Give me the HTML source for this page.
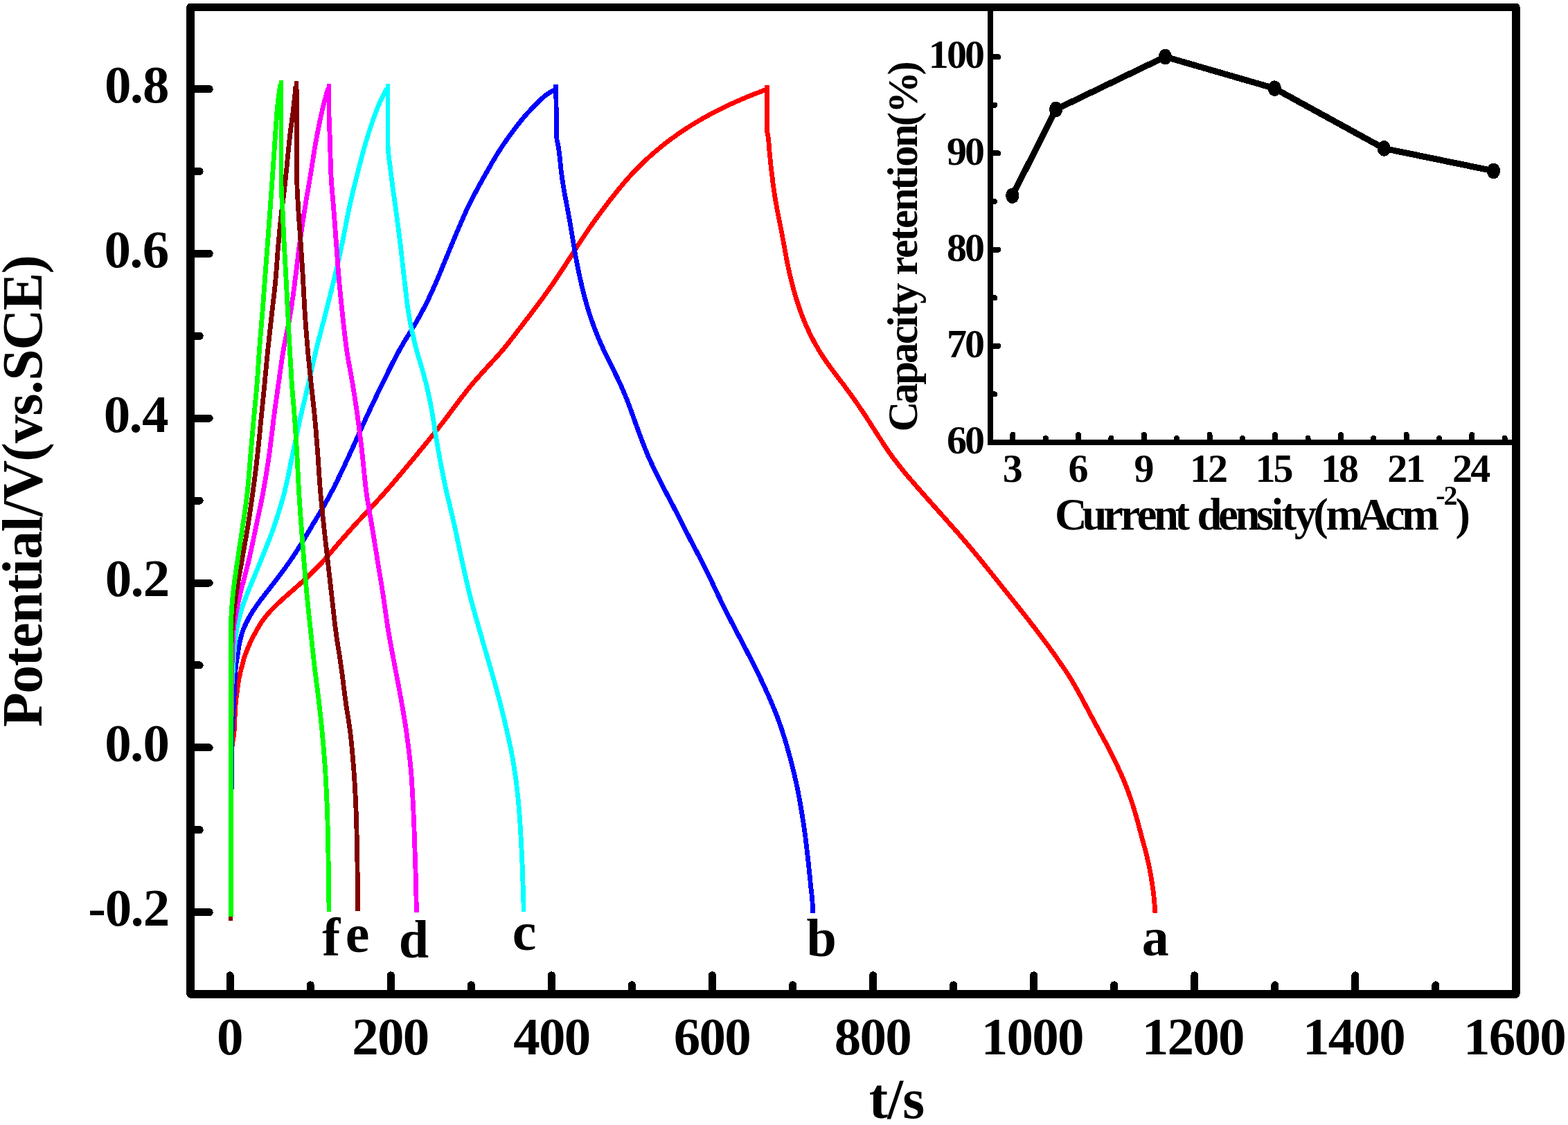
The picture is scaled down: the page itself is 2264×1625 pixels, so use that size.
<!DOCTYPE html><html><head><meta charset="utf-8"><title>Galvanostatic charge-discharge curves</title>
<style>html,body{margin:0;padding:0;background:#fff}svg{display:block}text{font-family:'Liberation Serif','DejaVu Serif',serif;font-weight:bold;fill:#000}</style></head><body>
<svg width="2264" height="1625" viewBox="0 0 2264 1625" shape-rendering="crispEdges">
<rect width="2264" height="1625" fill="#fff"/>
<g fill="none" stroke-width="6.80" stroke-linejoin="round" stroke-linecap="butt">
<path d="M333.0,1322.0L333.0,1319.0L333.0,1316.0L333.0,1313.0L333.0,1310.0L333.0,1307.0L333.0,1304.0L333.0,1301.0L333.0,1298.0L333.0,1295.0L333.0,1292.0L333.0,1289.0L333.0,1286.0L333.0,1283.0L333.0,1280.0L333.0,1277.0L333.0,1274.0L333.1,1271.0L333.1,1268.0L333.1,1265.0L333.1,1262.0L333.1,1259.0L333.1,1256.0L333.1,1253.0L333.1,1250.0L333.1,1247.0L333.1,1244.0L333.1,1241.0L333.1,1238.0L333.1,1235.0L333.1,1232.0L333.2,1229.0L333.2,1226.0L333.2,1223.0L333.2,1220.0L333.2,1217.0L333.2,1214.0L333.2,1211.0L333.2,1208.0L333.2,1205.0L333.3,1202.0L333.3,1199.0L333.3,1196.0L333.3,1193.0L333.3,1190.0L333.3,1187.0L333.3,1184.0L333.3,1181.0L333.4,1178.0L333.4,1175.0L333.4,1172.0L333.4,1169.0L333.4,1166.0L333.4,1163.0L333.4,1160.0L333.5,1157.0L333.5,1154.0L333.5,1151.0L333.5,1148.0L333.5,1145.0L333.5,1142.0L333.6,1139.0L333.6,1136.0L333.6,1133.0L333.6,1130.0L333.7,1127.0L333.7,1124.0L333.7,1121.0L333.7,1118.0L333.8,1115.0L333.8,1112.0L333.9,1109.0L333.9,1106.0L334.0,1103.0L334.0,1100.0L334.1,1097.0L334.1,1094.0L334.2,1091.0L334.3,1088.0L334.4,1085.0L334.6,1082.0L334.9,1079.0L335.3,1076.0L335.8,1073.0L336.3,1070.0L336.8,1067.0L337.2,1064.0L337.6,1061.0L337.9,1058.0L338.2,1055.0L338.3,1052.0L338.5,1049.0L338.6,1046.0L338.7,1043.0L338.9,1040.0L339.0,1037.0L339.2,1034.0L339.3,1031.0L339.5,1028.0L339.7,1025.0L339.8,1022.0L340.0,1019.0L340.3,1016.0L340.5,1013.0L340.8,1010.0L341.2,1007.0L341.7,1004.0L342.1,1001.0L342.5,998.0L342.8,995.0L343.2,992.0L343.5,989.0L344.0,986.0L344.5,983.0L345.1,980.0L345.7,977.0L346.4,974.0L347.1,971.0L347.9,968.0L348.6,965.0L349.4,962.0L350.2,959.0L350.9,956.0L351.8,953.0L352.6,950.0L353.6,947.0L354.7,944.0L355.9,941.0L357.1,938.0L358.3,935.0L359.6,932.0L360.9,929.2L362.1,926.5L363.5,923.8L364.8,921.0L366.3,918.2L367.8,915.5L369.3,912.8L370.8,910.0L372.4,907.2L374.0,904.5L375.7,901.8L377.4,899.0L379.1,896.5L380.9,894.0L382.9,891.5L384.9,889.0L387.1,886.5L389.1,884.2L391.1,882.0L393.2,879.8L395.5,877.5L397.7,875.2L400.0,873.0L402.4,870.8L404.8,868.5L407.3,866.2L409.6,864.2L411.8,862.2L414.1,860.2L416.6,858.0L418.8,856.0L421.1,854.0L423.4,852.0L425.7,850.0L427.9,848.0L430.2,846.0L432.5,844.0L434.7,842.0L437.2,839.8L439.7,837.5L442.1,835.2L444.4,833.0L446.8,830.8L449.1,828.5L451.4,826.2L453.6,824.0L455.9,821.8L458.1,819.5L460.2,817.2L462.4,815.0L464.5,812.8L466.6,810.5L468.7,808.2L470.7,806.0L472.7,803.8L474.9,801.2L477.0,798.8L479.1,796.2L481.2,793.8L483.3,791.2L485.4,788.8L487.6,786.2L489.7,783.8L491.9,781.2L494.1,778.8L496.3,776.2L498.5,773.8L500.7,771.2L502.7,769.0L504.7,766.8L506.7,764.5L508.7,762.2L510.7,760.0L512.8,757.8L514.8,755.5L516.9,753.2L519.0,751.0L521.1,748.8L523.2,746.5L525.3,744.2L527.4,742.0L529.6,739.8L531.7,737.5L533.8,735.2L535.8,733.0L537.9,730.8L540.0,728.5L542.1,726.2L544.2,724.0L546.2,721.8L548.3,719.5L550.4,717.2L552.4,715.0L554.4,712.8L556.4,710.5L558.4,708.2L560.6,705.8L562.8,703.2L564.9,700.8L567.1,698.2L569.2,695.8L571.3,693.2L573.4,690.8L575.5,688.2L577.6,685.8L579.7,683.2L581.8,680.8L583.9,678.2L586.0,675.8L588.1,673.2L590.2,670.8L592.2,668.2L594.3,665.8L596.4,663.2L598.5,660.8L600.5,658.2L602.6,655.8L604.6,653.2L606.7,650.8L608.7,648.2L610.8,645.8L612.8,643.2L614.9,640.8L616.9,638.2L618.9,635.8L620.9,633.2L623.0,630.8L625.0,628.2L627.0,625.8L629.0,623.2L631.0,620.8L633.0,618.2L635.0,615.8L636.9,613.2L638.9,610.8L640.8,608.2L642.8,605.8L644.7,603.2L646.6,600.8L648.4,598.2L650.3,595.8L652.1,593.2L653.9,590.8L655.8,588.2L657.7,585.8L659.5,583.2L661.4,580.8L663.3,578.2L665.2,575.8L667.1,573.2L669.1,570.8L671.0,568.2L672.9,565.8L674.9,563.2L676.9,560.8L678.9,558.2L681.0,555.8L683.1,553.2L685.2,550.8L687.4,548.2L689.4,546.0L691.4,543.8L693.4,541.5L695.5,539.2L697.5,537.0L699.5,534.8L701.6,532.5L703.6,530.2L705.6,528.0L707.7,525.8L709.7,523.5L711.8,521.2L713.9,519.0L716.0,516.8L718.0,514.5L720.1,512.2L722.1,510.0L724.2,507.5L726.4,505.0L728.4,502.5L730.5,500.0L732.5,497.5L734.4,495.0L736.4,492.5L738.3,490.0L740.3,487.5L742.2,485.0L744.1,482.5L746.0,480.0L748.0,477.5L749.9,475.0L751.8,472.5L753.8,470.0L755.7,467.5L757.6,465.0L759.5,462.5L761.4,460.0L763.3,457.5L765.2,455.0L767.1,452.5L769.0,450.0L770.9,447.5L772.8,445.0L774.7,442.5L776.5,440.0L778.4,437.5L780.2,435.0L782.1,432.5L783.9,430.0L785.7,427.5L787.5,425.0L789.3,422.5L791.1,420.0L792.9,417.5L794.6,415.0L796.4,412.5L798.1,410.0L799.8,407.5L801.5,405.0L803.2,402.5L804.9,400.0L806.6,397.5L808.4,394.8L810.2,392.0L812.0,389.2L813.8,386.5L815.6,383.8L817.4,381.0L819.1,378.2L820.9,375.5L822.7,372.8L824.5,370.0L826.2,367.2L828.0,364.5L829.8,361.8L831.5,359.0L833.3,356.2L835.1,353.5L836.9,350.8L838.7,348.0L840.5,345.2L842.3,342.5L844.1,339.8L845.8,337.2L847.5,334.8L849.2,332.2L850.9,329.8L852.6,327.2L854.4,324.8L856.1,322.2L857.9,319.8L859.7,317.2L861.6,314.8L863.4,312.2L865.2,309.8L867.1,307.2L868.9,304.8L870.8,302.2L872.7,299.8L874.5,297.2L876.4,294.8L878.3,292.2L880.3,289.8L882.2,287.2L884.2,284.8L886.2,282.2L888.2,279.8L890.2,277.2L892.2,274.8L894.2,272.2L896.3,269.8L898.4,267.2L900.5,264.8L902.6,262.2L904.8,259.8L907.0,257.2L909.0,255.0L911.0,252.8L913.1,250.5L915.3,248.2L917.4,246.0L919.6,243.8L921.8,241.5L924.1,239.2L926.4,237.0L928.7,234.8L931.0,232.5L933.4,230.2L935.9,228.0L938.3,225.8L940.6,223.8L942.9,221.8L945.2,219.8L947.5,217.8L949.9,215.8L952.4,213.8L954.8,211.8L957.3,209.8L959.8,207.8L962.4,205.8L965.0,203.8L967.7,201.8L970.4,199.8L973.2,197.8L975.6,196.0L978.1,194.2L980.6,192.5L983.2,190.8L985.7,189.0L988.4,187.2L991.0,185.5L993.8,183.8L996.5,182.0L999.3,180.2L1002.2,178.5L1005.1,176.8L1008.0,175.0L1011.0,173.2L1014.0,171.5L1016.7,170.0L1019.4,168.5L1022.1,167.0L1024.8,165.5L1027.6,164.0L1030.5,162.5L1033.4,161.0L1036.3,159.5L1039.3,158.0L1042.3,156.5L1045.4,155.0L1048.5,153.5L1051.7,152.0L1054.9,150.5L1058.2,149.0L1061.0,147.8L1063.8,146.5L1066.6,145.2L1069.5,144.0L1072.4,142.8L1075.3,141.5L1078.3,140.2L1081.3,139.0L1084.4,137.8L1087.5,136.5L1090.7,135.2L1093.9,134.0L1097.1,132.8L1100.5,131.5L1103.8,130.2L1104.5,130.0M1107.1,123.0L1107.1,126.0L1107.1,129.0L1107.1,132.0L1107.1,135.0L1107.1,138.0L1107.1,141.0L1107.1,144.0L1107.1,147.0L1107.1,150.0L1107.1,153.0L1107.1,156.0L1107.1,159.0L1107.1,162.0L1107.1,165.0L1107.1,168.0L1107.1,171.0L1107.1,174.0L1107.1,177.0L1107.1,180.0L1107.1,183.0L1107.1,186.0L1107.4,189.0L1107.9,192.0L1108.6,195.0L1109.1,198.0L1109.5,201.0L1109.8,204.0L1110.1,207.0L1110.3,210.0L1110.6,213.0L1110.8,216.0L1111.0,219.0L1111.3,222.0L1111.6,225.0L1111.9,228.0L1112.2,231.0L1112.5,234.0L1112.8,237.0L1113.1,240.0L1113.5,243.0L1113.8,246.0L1114.2,249.0L1114.5,252.0L1114.9,255.0L1115.3,258.0L1115.6,261.0L1116.0,264.0L1116.4,267.0L1116.8,270.0L1117.2,273.0L1117.7,276.0L1118.1,279.0L1118.6,282.0L1119.0,285.0L1119.5,288.0L1120.0,291.0L1120.5,294.0L1121.1,297.0L1121.6,300.0L1122.1,303.0L1122.7,306.0L1123.3,309.0L1123.9,312.0L1124.5,315.0L1125.1,318.0L1125.7,321.0L1126.3,324.0L1126.9,327.0L1127.5,330.0L1128.1,333.0L1128.7,336.0L1129.2,339.0L1129.8,342.0L1130.3,345.0L1130.9,348.0L1131.4,351.0L1132.0,354.0L1132.5,357.0L1133.1,360.0L1133.6,363.0L1134.2,366.0L1134.7,369.0L1135.3,372.0L1135.8,375.0L1136.4,378.0L1137.0,381.0L1137.7,384.0L1138.3,387.0L1138.9,390.0L1139.6,393.0L1140.3,396.0L1141.0,399.0L1141.7,402.0L1142.4,405.0L1143.2,408.0L1143.9,411.0L1144.7,414.0L1145.5,417.0L1146.4,420.0L1147.2,423.0L1148.1,426.0L1149.0,429.0L1149.9,432.0L1150.8,435.0L1151.8,438.0L1152.8,441.0L1153.8,444.0L1154.8,447.0L1155.9,450.0L1157.0,453.0L1158.1,456.0L1159.3,459.0L1160.5,462.0L1161.7,465.0L1163.0,468.0L1164.3,471.0L1165.5,473.8L1166.8,476.5L1168.0,479.2L1169.4,482.0L1170.7,484.8L1172.1,487.5L1173.6,490.2L1175.0,493.0L1176.5,495.8L1178.1,498.5L1179.7,501.2L1181.3,504.0L1182.9,506.8L1184.6,509.5L1186.3,512.2L1188.1,515.0L1189.8,517.5L1191.5,520.0L1193.2,522.5L1195.0,525.0L1196.8,527.5L1198.5,530.0L1200.3,532.5L1202.2,535.0L1204.0,537.5L1205.9,540.0L1207.8,542.5L1209.8,545.0L1211.7,547.5L1213.6,550.0L1215.5,552.5L1217.4,555.0L1219.3,557.5L1221.1,560.0L1223.0,562.5L1224.8,565.0L1226.6,567.5L1228.4,570.0L1230.2,572.5L1232.0,575.0L1233.8,577.5L1235.6,580.0L1237.3,582.5L1239.0,585.0L1240.7,587.5L1242.4,590.0L1244.1,592.5L1245.8,595.0L1247.4,597.5L1249.3,600.2L1251.1,603.0L1252.9,605.8L1254.7,608.5L1256.4,611.2L1258.2,614.0L1259.9,616.8L1261.7,619.5L1263.4,622.2L1265.2,625.0L1267.0,627.8L1268.7,630.5L1270.5,633.2L1272.3,636.0L1274.1,638.8L1275.9,641.5L1277.7,644.2L1279.5,647.0L1281.2,649.5L1282.9,652.0L1284.6,654.5L1286.4,657.0L1288.2,659.5L1290.1,662.0L1292.0,664.5L1293.9,667.0L1295.8,669.5L1297.8,672.0L1299.8,674.5L1301.8,677.0L1303.8,679.5L1305.8,682.0L1307.9,684.5L1310.0,687.0L1312.1,689.5L1314.3,692.0L1316.4,694.5L1318.6,697.0L1320.8,699.5L1322.9,702.0L1325.1,704.5L1327.3,707.0L1329.5,709.5L1331.7,712.0L1333.7,714.2L1335.7,716.5L1337.7,718.8L1339.7,721.0L1341.7,723.2L1343.7,725.5L1345.7,727.8L1347.7,730.0L1349.7,732.2L1351.7,734.5L1353.7,736.8L1355.7,739.0L1357.7,741.2L1359.7,743.5L1361.8,745.8L1363.8,748.0L1365.8,750.2L1367.7,752.5L1369.7,754.8L1371.7,757.0L1373.7,759.2L1375.7,761.5L1377.9,764.0L1380.1,766.5L1382.3,769.0L1384.5,771.5L1386.6,774.0L1388.8,776.5L1390.9,779.0L1393.1,781.5L1395.2,784.0L1397.3,786.5L1399.4,789.0L1401.5,791.5L1403.6,794.0L1405.7,796.5L1407.8,799.0L1409.9,801.5L1411.9,804.0L1414.0,806.5L1416.0,809.0L1418.0,811.5L1420.0,814.0L1422.1,816.5L1424.1,819.0L1426.1,821.5L1428.1,824.0L1430.1,826.5L1432.1,829.0L1434.1,831.5L1436.1,834.0L1438.1,836.5L1440.1,839.0L1442.1,841.5L1444.1,844.0L1446.1,846.5L1448.1,849.0L1450.1,851.5L1452.1,854.0L1454.1,856.5L1456.1,859.0L1458.1,861.5L1460.1,864.0L1462.1,866.5L1464.1,869.0L1466.1,871.5L1468.0,874.0L1470.0,876.5L1472.0,879.0L1474.0,881.5L1476.0,884.0L1478.0,886.5L1479.9,889.0L1481.9,891.5L1483.9,894.0L1485.8,896.5L1487.8,899.0L1489.7,901.5L1491.6,904.0L1493.6,906.5L1495.5,909.0L1497.4,911.5L1499.3,914.0L1501.2,916.5L1503.1,919.0L1504.9,921.5L1506.8,924.0L1508.7,926.5L1510.5,929.0L1512.3,931.5L1514.2,934.0L1516.0,936.5L1517.8,939.0L1519.6,941.5L1521.4,944.0L1523.2,946.5L1524.9,949.0L1526.7,951.5L1528.4,954.0L1530.1,956.5L1531.9,959.0L1533.6,961.5L1535.3,964.0L1537.0,966.5L1538.7,969.0L1540.3,971.5L1542.1,974.2L1543.9,977.0L1545.6,979.8L1547.3,982.5L1548.9,985.2L1550.5,988.0L1552.1,990.8L1553.7,993.5L1555.2,996.2L1556.7,999.0L1558.3,1001.8L1559.8,1004.5L1561.3,1007.2L1562.8,1010.0L1564.2,1012.8L1565.7,1015.5L1567.1,1018.2L1568.5,1021.0L1570.0,1023.8L1571.4,1026.5L1572.9,1029.2L1574.3,1032.0L1575.8,1034.8L1577.3,1037.5L1578.7,1040.2L1580.2,1043.0L1581.7,1045.8L1583.2,1048.5L1584.7,1051.2L1586.1,1054.0L1587.6,1056.8L1589.1,1059.5L1590.7,1062.2L1592.2,1065.0L1593.7,1067.8L1595.2,1070.5L1596.8,1073.2L1598.2,1076.0L1599.7,1078.8L1601.1,1081.5L1602.5,1084.2L1603.9,1087.0L1605.3,1089.8L1606.7,1092.5L1608.0,1095.2L1609.4,1098.0L1610.7,1100.8L1612.0,1103.5L1613.3,1106.2L1614.5,1109.0L1615.8,1111.8L1617.0,1114.5L1618.3,1117.2L1619.5,1120.0L1620.8,1123.0L1622.1,1126.0L1623.3,1129.0L1624.5,1132.0L1625.7,1135.0L1626.9,1138.0L1628.0,1141.0L1629.1,1144.0L1630.2,1147.0L1631.3,1150.0L1632.4,1153.0L1633.4,1156.0L1634.4,1159.0L1635.3,1162.0L1636.3,1165.0L1637.2,1168.0L1638.1,1171.0L1639.0,1174.0L1639.9,1177.0L1640.8,1180.0L1641.6,1183.0L1642.4,1186.0L1643.3,1189.0L1644.0,1192.0L1644.8,1195.0L1645.6,1198.0L1646.4,1201.0L1647.2,1204.0L1648.0,1207.0L1648.8,1210.0L1649.6,1213.0L1650.5,1216.0L1651.3,1219.0L1652.1,1222.0L1652.9,1225.0L1653.7,1228.0L1654.4,1231.0L1655.2,1234.0L1655.9,1237.0L1656.6,1240.0L1657.3,1243.0L1658.0,1246.0L1658.7,1249.0L1659.3,1252.0L1659.9,1255.0L1660.5,1258.0L1661.0,1261.0L1661.5,1264.0L1662.1,1267.0L1662.5,1270.0L1663.0,1273.0L1663.5,1276.0L1663.9,1279.0L1664.4,1282.0L1664.8,1285.0L1665.2,1288.0L1665.5,1291.0L1665.9,1294.0L1666.2,1297.0L1666.5,1300.0L1666.8,1303.0L1667.0,1306.0L1667.3,1309.0L1667.5,1312.0L1667.7,1315.0L1667.9,1318.0L1668.0,1319.0" stroke="#ff0000"/>
<circle cx="1668.0" cy="1315.6" r="3.40" fill="#ff0000" stroke="none"/>
<circle cx="333.0" cy="1318.6" r="3.40" fill="#ff0000" stroke="none"/>
<path d="M333.5,1320.0L333.5,1317.0L333.5,1314.0L333.5,1311.0L333.5,1308.0L333.5,1305.0L333.5,1302.0L333.5,1299.0L333.5,1296.0L333.5,1293.0L333.5,1290.0L333.5,1287.0L333.5,1284.0L333.5,1281.0L333.5,1278.0L333.5,1275.0L333.5,1272.0L333.6,1269.0L333.6,1266.0L333.6,1263.0L333.6,1260.0L333.6,1257.0L333.6,1254.0L333.6,1251.0L333.6,1248.0L333.6,1245.0L333.6,1242.0L333.6,1239.0L333.6,1236.0L333.7,1233.0L333.7,1230.0L333.7,1227.0L333.7,1224.0L333.7,1221.0L333.7,1218.0L333.7,1215.0L333.7,1212.0L333.7,1209.0L333.7,1206.0L333.8,1203.0L333.8,1200.0L333.8,1197.0L333.8,1194.0L333.8,1191.0L333.8,1188.0L333.8,1185.0L333.8,1182.0L333.9,1179.0L333.9,1176.0L333.9,1173.0L333.9,1170.0L333.9,1167.0L333.9,1164.0L333.9,1161.0L334.0,1158.0L334.0,1155.0L334.0,1152.0L334.0,1149.0L334.0,1146.0L334.0,1143.0L334.1,1140.0L334.1,1137.0L334.1,1134.0L334.1,1131.0L334.1,1128.0L334.2,1125.0L334.2,1122.0L334.2,1119.0L334.2,1116.0L334.3,1113.0L334.3,1110.0L334.3,1107.0L334.3,1104.0L334.4,1101.0L334.4,1098.0L334.4,1095.0L334.5,1092.0L334.5,1089.0L334.6,1086.0L334.6,1083.0L334.6,1080.0L334.7,1077.0L334.7,1074.0L334.8,1071.0L334.8,1068.0L334.9,1065.0L335.0,1062.0L335.0,1059.0L335.1,1056.0L335.2,1053.0L335.4,1050.0L335.5,1047.0L335.7,1044.0L335.9,1041.0L336.1,1038.0L336.3,1035.0L336.5,1032.0L336.7,1029.0L337.0,1026.0L337.2,1023.0L337.4,1020.0L337.5,1017.0L337.7,1014.0L337.8,1011.0L338.0,1008.0L338.1,1005.0L338.2,1002.0L338.3,999.0L338.4,996.0L338.5,993.0L338.7,990.0L338.8,987.0L339.0,984.0L339.1,981.0L339.3,978.0L339.5,975.0L339.7,972.0L340.0,969.0L340.2,966.0L340.5,963.0L340.8,960.0L341.3,957.0L341.8,954.0L342.3,951.0L342.7,948.0L343.2,945.0L343.6,942.0L344.1,939.0L344.6,936.0L345.1,933.0L345.7,930.0L346.3,927.0L347.0,924.0L347.7,921.0L348.5,918.0L349.4,915.0L350.3,912.0L351.4,909.0L352.6,906.0L353.9,903.2L355.2,900.5L356.6,897.8L358.0,895.0L359.4,892.2L361.0,889.5L362.7,886.8L364.3,884.0L366.1,881.2L367.8,878.8L369.5,876.2L371.2,873.8L373.0,871.2L374.8,868.8L376.7,866.2L378.6,863.8L380.6,861.2L382.5,858.8L384.4,856.2L386.3,853.8L388.3,851.2L390.2,848.8L392.2,846.2L394.1,843.8L396.0,841.2L397.9,838.8L399.8,836.2L401.7,833.8L403.6,831.2L405.5,828.8L407.3,826.2L409.2,823.8L411.0,821.2L412.8,818.8L414.6,816.2L416.4,813.8L418.2,811.2L419.9,808.8L421.6,806.2L423.3,803.8L424.9,801.2L426.8,798.5L428.5,795.8L430.3,793.0L432.1,790.2L433.8,787.5L435.5,784.8L437.2,782.0L438.9,779.2L440.5,776.5L442.1,773.8L443.7,771.0L445.4,768.2L447.0,765.5L448.6,762.8L450.2,760.0L451.8,757.2L453.5,754.5L455.2,751.8L456.8,749.0L458.5,746.2L460.2,743.5L461.8,740.8L463.5,738.0L465.1,735.2L466.6,732.5L468.2,729.8L469.8,727.0L471.3,724.2L472.8,721.5L474.3,718.8L475.8,716.0L477.3,713.2L478.7,710.5L480.2,707.8L481.6,705.0L483.0,702.2L484.3,699.5L485.7,696.8L487.1,694.0L488.4,691.2L489.7,688.5L491.1,685.8L492.4,683.0L493.7,680.2L495.0,677.5L496.3,674.8L497.6,672.0L498.8,669.2L500.1,666.5L501.4,663.8L502.7,661.0L504.0,658.2L505.2,655.5L506.5,652.8L507.8,650.0L509.0,647.2L510.3,644.5L511.5,641.8L512.7,639.0L514.0,636.2L515.2,633.5L516.4,630.8L517.6,628.0L518.8,625.2L520.1,622.5L521.3,619.8L522.5,617.0L523.8,614.2L525.0,611.5L526.3,608.8L527.5,606.0L528.8,603.2L530.1,600.5L531.4,597.8L532.6,595.0L533.9,592.2L535.2,589.5L536.5,586.8L537.8,584.0L539.1,581.2L540.4,578.5L541.7,575.8L543.0,573.0L544.3,570.2L545.6,567.5L547.0,564.8L548.3,562.0L549.6,559.2L551.0,556.5L552.3,553.8L553.7,551.0L555.0,548.2L556.4,545.5L557.7,542.8L559.1,540.0L560.4,537.2L561.8,534.5L563.1,531.8L564.5,529.0L565.9,526.2L567.3,523.5L568.7,520.8L570.1,518.0L571.6,515.2L573.0,512.5L574.5,509.8L576.0,507.0L577.5,504.2L579.1,501.5L580.7,498.8L582.3,496.0L583.9,493.2L585.6,490.5L587.3,487.8L589.0,485.0L590.7,482.2L592.4,479.5L594.1,476.8L595.7,474.0L597.4,471.2L599.1,468.5L600.7,465.8L602.3,463.0L603.9,460.2L605.4,457.5L606.9,454.8L608.4,452.0L609.8,449.2L611.3,446.5L612.7,443.8L614.1,441.0L615.5,438.2L616.8,435.5L618.2,432.8L619.5,430.0L620.8,427.2L622.1,424.5L623.4,421.8L624.6,419.0L625.9,416.2L627.1,413.5L628.3,410.8L629.6,407.8L630.9,404.8L632.2,401.8L633.4,398.8L634.7,395.8L635.9,392.8L637.2,389.8L638.4,386.8L639.6,383.8L640.9,380.8L642.1,377.8L643.3,374.8L644.6,371.8L645.8,368.8L647.1,365.8L648.3,362.8L649.5,359.8L650.8,356.8L652.0,353.8L653.3,350.8L654.5,347.8L655.8,344.8L657.0,341.8L658.3,338.8L659.5,335.8L660.8,332.8L662.1,329.8L663.4,326.8L664.7,323.8L665.9,320.8L667.2,317.8L668.5,315.0L669.7,312.2L670.9,309.5L672.2,306.8L673.4,304.0L674.7,301.2L676.1,298.5L677.4,295.8L678.8,293.0L680.1,290.2L681.5,287.5L683.0,284.8L684.4,282.0L685.8,279.2L687.3,276.5L688.7,273.8L690.2,271.0L691.7,268.2L693.2,265.5L694.7,262.8L696.3,260.0L697.8,257.2L699.4,254.5L700.9,251.8L702.5,249.0L704.1,246.2L705.6,243.5L707.2,240.8L708.7,238.0L710.3,235.2L711.9,232.5L713.6,229.8L715.2,227.0L716.9,224.2L718.6,221.5L720.4,218.8L722.1,216.0L723.9,213.2L725.7,210.5L727.4,208.0L729.1,205.5L730.8,203.0L732.6,200.5L734.3,198.0L736.1,195.5L738.0,193.0L739.8,190.5L741.7,188.0L743.6,185.5L745.5,183.0L747.5,180.5L749.4,178.0L751.4,175.5L753.5,173.0L755.5,170.5L757.6,168.0L759.8,165.5L761.8,163.2L763.9,161.0L766.0,158.8L768.2,156.5L770.5,154.2L772.7,152.0L775.0,149.8L777.2,147.5L779.4,145.2L781.7,143.0L784.1,140.8L786.4,138.8L789.0,136.8L791.7,135.0L794.6,133.2L797.2,131.8L800.0,130.2L800.5,130.0M802.6,122.0L802.6,125.0L802.7,128.0L802.7,131.0L802.8,134.0L802.8,137.0L802.8,140.0L802.9,143.0L802.9,146.0L803.0,149.0L803.0,152.0L803.1,155.0L803.1,158.0L803.1,161.0L803.2,164.0L803.2,167.0L803.2,170.0L803.3,173.0L803.3,176.0L803.4,179.0L803.4,182.0L803.5,185.0L803.5,188.0L803.6,191.0L803.7,194.0L803.8,197.0L803.9,200.0L804.2,203.0L804.9,206.0L805.6,209.0L806.3,212.0L806.7,215.0L807.1,218.0L807.5,221.0L807.8,224.0L808.2,227.0L808.5,230.0L808.8,233.0L809.1,236.0L809.4,239.0L809.7,242.0L810.0,245.0L810.4,248.0L810.7,251.0L811.2,254.0L811.6,257.0L812.0,260.0L812.5,263.0L813.0,266.0L813.4,269.0L813.9,272.0L814.4,275.0L814.9,278.0L815.5,281.0L816.0,284.0L816.6,287.0L817.2,290.0L817.7,293.0L818.3,296.0L818.9,299.0L819.4,302.0L820.0,305.0L820.5,308.0L821.1,311.0L821.6,314.0L822.2,317.0L822.7,320.0L823.3,323.0L823.8,326.0L824.3,329.0L824.8,332.0L825.3,335.0L825.8,338.0L826.3,341.0L826.8,344.0L827.3,347.0L827.8,350.0L828.3,353.0L828.8,356.0L829.3,359.0L829.8,362.0L830.3,365.0L830.8,368.0L831.3,371.0L831.9,374.0L832.4,377.0L833.0,380.0L833.6,383.0L834.2,386.0L834.8,389.0L835.4,392.0L836.0,395.0L836.7,398.0L837.3,401.0L838.0,404.0L838.7,407.0L839.4,410.0L840.1,413.0L840.8,416.0L841.5,419.0L842.2,422.0L843.0,425.0L843.8,428.0L844.6,431.0L845.4,434.0L846.2,437.0L847.1,440.0L848.0,443.0L848.9,446.0L849.8,449.0L850.7,452.0L851.7,455.0L852.7,458.0L853.7,461.0L854.8,464.0L855.8,467.0L856.9,470.0L858.0,473.0L859.1,476.0L860.3,479.0L861.5,482.0L862.7,485.0L863.9,488.0L865.2,491.0L866.5,494.0L867.7,496.8L868.9,499.5L870.2,502.2L871.4,505.0L872.7,507.8L874.0,510.5L875.3,513.2L876.7,516.0L878.1,518.8L879.5,521.5L880.8,524.2L882.2,527.0L883.6,529.8L884.9,532.5L886.3,535.2L887.6,538.0L888.9,540.8L890.3,543.5L891.6,546.2L892.9,549.0L894.2,551.8L895.5,554.5L896.7,557.2L897.9,560.0L899.1,562.8L900.4,565.8L901.7,568.8L902.9,571.8L904.2,574.8L905.4,577.8L906.6,580.8L907.7,583.8L908.8,586.8L909.9,589.8L911.0,592.8L912.1,595.8L913.2,598.8L914.2,601.8L915.3,604.8L916.4,607.8L917.5,610.8L918.6,613.8L919.7,616.8L920.7,619.8L921.8,622.8L922.9,625.8L924.0,628.8L925.2,631.8L926.3,634.8L927.4,637.8L928.6,640.8L929.8,643.8L930.9,646.8L932.1,649.8L933.4,652.8L934.6,655.8L935.9,658.8L937.1,661.5L938.4,664.2L939.6,667.0L940.9,669.8L942.2,672.5L943.5,675.2L944.8,678.0L946.1,680.8L947.4,683.5L948.8,686.2L950.2,689.0L951.6,691.8L952.9,694.5L954.4,697.2L955.8,700.0L957.2,702.8L958.6,705.5L960.0,708.2L961.5,711.0L962.9,713.8L964.3,716.5L965.8,719.2L967.2,722.0L968.7,724.8L970.1,727.5L971.6,730.2L973.0,733.0L974.4,735.8L975.9,738.5L977.3,741.2L978.7,744.0L980.1,746.8L981.5,749.5L982.9,752.2L984.3,755.0L985.7,757.8L987.1,760.5L988.5,763.2L989.9,766.0L991.3,768.8L992.7,771.5L994.1,774.2L995.5,777.0L996.9,779.8L998.3,782.5L999.8,785.2L1001.2,788.0L1002.7,790.8L1004.1,793.5L1005.6,796.2L1007.0,799.0L1008.5,801.8L1009.9,804.5L1011.4,807.2L1012.8,810.0L1014.2,812.8L1015.6,815.5L1017.0,818.2L1018.3,821.0L1019.7,823.8L1021.1,826.5L1022.4,829.2L1023.8,832.0L1025.1,834.8L1026.4,837.5L1027.7,840.2L1029.0,843.0L1030.3,845.8L1031.6,848.5L1032.9,851.2L1034.2,854.0L1035.5,856.8L1036.8,859.5L1038.1,862.2L1039.5,865.0L1040.8,867.8L1042.2,870.5L1043.5,873.2L1044.9,876.0L1046.2,878.8L1047.6,881.5L1049.0,884.2L1050.4,887.0L1051.8,889.8L1053.2,892.5L1054.6,895.2L1056.0,898.0L1057.5,900.8L1058.9,903.5L1060.3,906.2L1061.8,909.0L1063.2,911.8L1064.6,914.5L1066.1,917.2L1067.5,920.0L1069.0,922.8L1070.4,925.5L1071.8,928.2L1073.3,931.0L1074.7,933.8L1076.1,936.5L1077.6,939.2L1079.0,942.0L1080.4,944.8L1081.9,947.5L1083.3,950.2L1084.7,953.0L1086.1,955.8L1087.5,958.5L1088.9,961.2L1090.2,964.0L1091.6,966.8L1093.0,969.5L1094.3,972.2L1095.6,975.0L1097.0,977.8L1098.3,980.5L1099.6,983.2L1100.9,986.0L1102.2,988.8L1103.4,991.5L1104.7,994.2L1106.0,997.0L1107.2,999.8L1108.5,1002.5L1109.7,1005.2L1110.9,1008.0L1112.2,1011.0L1113.5,1014.0L1114.8,1017.0L1116.0,1020.0L1117.3,1023.0L1118.5,1026.0L1119.7,1029.0L1120.9,1032.0L1122.1,1035.0L1123.2,1038.0L1124.3,1041.0L1125.4,1044.0L1126.4,1047.0L1127.5,1050.0L1128.5,1053.0L1129.5,1056.0L1130.4,1059.0L1131.4,1062.0L1132.3,1065.0L1133.3,1068.0L1134.2,1071.0L1135.1,1074.0L1135.9,1077.0L1136.8,1080.0L1137.6,1083.0L1138.5,1086.0L1139.3,1089.0L1140.1,1092.0L1140.9,1095.0L1141.7,1098.0L1142.4,1101.0L1143.2,1104.0L1143.9,1107.0L1144.7,1110.0L1145.4,1113.0L1146.2,1116.0L1146.9,1119.0L1147.6,1122.0L1148.3,1125.0L1149.0,1128.0L1149.7,1131.0L1150.3,1134.0L1151.0,1137.0L1151.6,1140.0L1152.2,1143.0L1152.7,1146.0L1153.3,1149.0L1153.9,1152.0L1154.4,1155.0L1155.0,1158.0L1155.5,1161.0L1156.0,1164.0L1156.5,1167.0L1157.0,1170.0L1157.5,1173.0L1158.0,1176.0L1158.5,1179.0L1158.9,1182.0L1159.4,1185.0L1159.9,1188.0L1160.3,1191.0L1160.8,1194.0L1161.2,1197.0L1161.6,1200.0L1162.1,1203.0L1162.5,1206.0L1162.9,1209.0L1163.2,1212.0L1163.6,1215.0L1164.0,1218.0L1164.3,1221.0L1164.7,1224.0L1165.0,1227.0L1165.4,1230.0L1165.7,1233.0L1166.1,1236.0L1166.4,1239.0L1166.7,1242.0L1167.1,1245.0L1167.4,1248.0L1167.7,1251.0L1168.0,1254.0L1168.3,1257.0L1168.6,1260.0L1169.0,1263.0L1169.3,1266.0L1169.6,1269.0L1169.9,1272.0L1170.1,1275.0L1170.4,1278.0L1170.7,1281.0L1171.1,1284.0L1171.4,1287.0L1171.8,1290.0L1172.1,1293.0L1172.4,1296.0L1172.7,1299.0L1172.9,1302.0L1173.1,1305.0L1173.2,1308.0L1173.3,1311.0L1173.4,1314.0L1173.5,1317.0L1173.5,1319.4" stroke="#0000ff"/>
<circle cx="1173.5" cy="1316.0" r="3.40" fill="#0000ff" stroke="none"/>
<circle cx="333.5" cy="1316.6" r="3.40" fill="#0000ff" stroke="none"/>
<path d="M333.0,1320.0L333.0,1317.0L333.0,1314.0L333.0,1311.0L333.0,1308.0L333.0,1305.0L333.0,1302.0L333.0,1299.0L333.0,1296.0L333.0,1293.0L333.0,1290.0L333.0,1287.0L333.0,1284.0L333.0,1281.0L333.0,1278.0L333.0,1275.0L333.0,1272.0L333.0,1269.0L333.0,1266.0L333.0,1263.0L333.0,1260.0L333.0,1257.0L333.0,1254.0L333.0,1251.0L333.0,1248.0L333.0,1245.0L333.0,1242.0L333.0,1239.0L333.0,1236.0L333.0,1233.0L333.0,1230.0L333.0,1227.0L333.0,1224.0L333.0,1221.0L333.0,1218.0L333.0,1215.0L333.0,1212.0L333.0,1209.0L333.0,1206.0L333.0,1203.0L333.0,1200.0L333.0,1197.0L333.0,1194.0L333.0,1191.0L333.0,1188.0L333.0,1185.0L333.0,1182.0L333.0,1179.0L333.0,1176.0L333.0,1173.0L333.0,1170.0L333.0,1167.0L333.0,1164.0L333.0,1161.0L333.0,1158.0L333.0,1155.0L333.0,1152.0L333.0,1149.0L333.0,1146.0L333.0,1143.0L333.0,1140.0L333.0,1137.0L333.0,1134.0L333.0,1131.0L333.0,1128.0L333.0,1125.0L333.0,1122.0L333.0,1119.0L333.0,1116.0L333.0,1113.0L333.0,1110.0L333.0,1107.0L333.0,1104.0L333.0,1101.0L333.0,1098.0L333.0,1095.0L333.0,1092.0L333.0,1089.0L333.0,1086.0L333.0,1083.0L333.0,1080.0L333.1,1077.0L333.1,1074.0L333.1,1071.0L333.1,1068.0L333.1,1065.0L333.2,1062.0L333.2,1059.0L333.2,1056.0L333.2,1053.0L333.3,1050.0L333.3,1047.0L333.3,1044.0L333.4,1041.0L333.4,1038.0L333.4,1035.0L333.5,1032.0L333.5,1029.0L333.6,1026.0L333.6,1023.0L333.7,1020.0L333.8,1017.0L333.9,1014.0L334.0,1011.0L334.2,1008.0L334.3,1005.0L334.4,1002.0L334.6,999.0L334.7,996.0L334.9,993.0L335.0,990.0L335.2,987.0L335.3,984.0L335.5,981.0L335.7,978.0L335.9,975.0L336.1,972.0L336.3,969.0L336.5,966.0L336.7,963.0L336.9,960.0L337.1,957.0L337.2,954.0L337.4,951.0L337.6,948.0L337.8,945.0L338.1,942.0L338.3,939.0L338.6,936.0L338.9,933.0L339.2,930.0L339.5,927.0L339.9,924.0L340.2,921.0L340.5,918.0L340.9,915.0L341.3,912.0L341.8,909.0L342.3,906.0L343.0,903.0L343.6,900.0L344.3,897.0L345.1,894.0L345.9,891.0L346.7,888.0L347.5,885.0L348.3,882.0L349.3,879.0L350.2,876.0L351.2,873.0L352.3,870.0L353.4,867.0L354.5,864.0L355.6,861.0L356.7,858.0L357.9,855.0L359.1,852.0L360.3,849.0L361.6,846.0L362.9,843.0L364.1,840.0L365.4,837.0L366.6,834.0L367.9,831.0L369.1,828.0L370.3,825.0L371.6,822.0L372.8,819.0L374.1,816.0L375.3,813.0L376.5,810.0L377.7,807.0L378.9,804.0L380.1,801.0L381.3,798.0L382.5,795.0L383.7,792.0L384.9,789.0L386.1,786.0L387.3,783.0L388.5,780.0L389.7,777.0L390.8,774.0L392.0,771.0L393.1,768.0L394.2,765.0L395.2,762.0L396.2,759.0L397.2,756.0L398.2,753.0L399.2,750.0L400.2,747.0L401.1,744.0L402.1,741.0L403.0,738.0L403.9,735.0L404.8,732.0L405.7,729.0L406.6,726.0L407.4,723.0L408.3,720.0L409.1,717.0L409.9,714.0L410.7,711.0L411.4,708.0L412.1,705.0L412.9,702.0L413.5,699.0L414.2,696.0L414.9,693.0L415.5,690.0L416.2,687.0L416.8,684.0L417.4,681.0L418.0,678.0L418.6,675.0L419.2,672.0L419.8,669.0L420.4,666.0L421.1,663.0L421.7,660.0L422.3,657.0L422.9,654.0L423.6,651.0L424.2,648.0L424.8,645.0L425.5,642.0L426.1,639.0L426.7,636.0L427.3,633.0L428.0,630.0L428.6,627.0L429.2,624.0L429.9,621.0L430.5,618.0L431.2,615.0L431.8,612.0L432.5,609.0L433.1,606.0L433.8,603.0L434.5,600.0L435.2,597.0L435.9,594.0L436.6,591.0L437.3,588.0L438.0,585.0L438.8,582.0L439.5,579.0L440.2,576.0L440.9,573.0L441.6,570.0L442.4,567.0L443.1,564.0L443.8,561.0L444.5,558.0L445.2,555.0L445.9,552.0L446.6,549.0L447.2,546.0L447.9,543.0L448.6,540.0L449.3,537.0L449.9,534.0L450.6,531.0L451.3,528.0L451.9,525.0L452.6,522.0L453.3,519.0L454.0,516.0L454.7,513.0L455.4,510.0L456.1,507.0L456.8,504.0L457.6,501.0L458.3,498.0L459.1,495.0L459.8,492.0L460.6,489.0L461.4,486.0L462.2,483.0L463.0,480.0L463.7,477.0L464.5,474.0L465.3,471.0L466.1,468.0L466.9,465.0L467.7,462.0L468.5,459.0L469.2,456.0L470.0,453.0L470.8,450.0L471.5,447.0L472.3,444.0L473.0,441.0L473.8,438.0L474.6,435.0L475.3,432.0L476.1,429.0L476.9,426.0L477.6,423.0L478.4,420.0L479.1,417.0L479.8,414.0L480.6,411.0L481.3,408.0L482.0,405.0L482.7,402.0L483.4,399.0L484.1,396.0L484.8,393.0L485.5,390.0L486.2,387.0L486.9,384.0L487.6,381.0L488.3,378.0L489.0,375.0L489.6,372.0L490.3,369.0L491.0,366.0L491.6,363.0L492.3,360.0L492.9,357.0L493.5,354.0L494.2,351.0L494.8,348.0L495.4,345.0L496.0,342.0L496.6,339.0L497.1,336.0L497.7,333.0L498.3,330.0L498.9,327.0L499.4,324.0L500.0,321.0L500.6,318.0L501.2,315.0L501.8,312.0L502.4,309.0L503.0,306.0L503.6,303.0L504.3,300.0L505.0,297.0L505.6,294.0L506.3,291.0L507.0,288.0L507.7,285.0L508.4,282.0L509.1,279.0L509.8,276.0L510.5,273.0L511.3,270.0L512.0,267.0L512.7,264.0L513.5,261.0L514.2,258.0L515.0,255.0L515.8,252.0L516.5,249.0L517.3,246.0L518.1,243.0L518.8,240.0L519.6,237.0L520.4,234.0L521.2,231.0L522.0,228.0L522.8,225.0L523.6,222.0L524.4,219.0L525.3,216.0L526.1,213.0L527.0,210.0L527.8,207.0L528.7,204.0L529.7,201.0L530.6,198.0L531.5,195.0L532.4,192.0L533.4,189.0L534.4,186.0L535.3,183.0L536.3,180.0L537.3,177.0L538.4,174.0L539.4,171.0L540.5,168.0L541.6,165.0L542.7,162.0L543.9,159.0L545.0,156.0L546.3,153.0L547.5,150.0L548.8,147.0L550.1,144.2L551.4,141.5L552.8,138.8L554.2,136.0L555.7,133.2L557.1,130.5L558.5,128.0M560.0,121.0L560.0,124.0L560.0,127.0L560.0,130.0L560.0,133.0L560.0,136.0L560.0,139.0L560.0,142.0L560.0,145.0L560.0,148.0L560.0,151.0L560.0,154.0L560.0,157.0L560.0,160.0L560.0,163.0L560.0,166.0L560.0,169.0L560.0,172.0L560.0,175.0L560.0,178.0L560.0,181.0L560.0,184.0L560.0,187.0L560.0,190.0L560.0,193.0L560.0,196.0L560.0,199.0L560.0,202.0L560.0,205.0L560.0,208.0L560.1,211.0L560.2,214.0L560.5,217.0L560.7,220.0L561.0,223.0L561.3,226.0L561.7,229.0L562.1,232.0L562.5,235.0L562.9,238.0L563.3,241.0L563.7,244.0L564.0,247.0L564.4,250.0L564.8,253.0L565.1,256.0L565.5,259.0L565.9,262.0L566.3,265.0L566.7,268.0L567.1,271.0L567.5,274.0L568.0,277.0L568.4,280.0L568.8,283.0L569.2,286.0L569.7,289.0L570.1,292.0L570.5,295.0L570.9,298.0L571.3,301.0L571.7,304.0L572.1,307.0L572.5,310.0L572.9,313.0L573.3,316.0L573.7,319.0L574.1,322.0L574.5,325.0L574.9,328.0L575.3,331.0L575.7,334.0L576.1,337.0L576.5,340.0L576.8,343.0L577.2,346.0L577.6,349.0L578.0,352.0L578.3,355.0L578.7,358.0L579.0,361.0L579.4,364.0L579.7,367.0L580.0,370.0L580.4,373.0L580.7,376.0L581.0,379.0L581.4,382.0L581.7,385.0L582.0,388.0L582.4,391.0L582.7,394.0L583.1,397.0L583.4,400.0L583.8,403.0L584.1,406.0L584.5,409.0L584.8,412.0L585.2,415.0L585.5,418.0L585.8,421.0L586.2,424.0L586.5,427.0L586.9,430.0L587.2,433.0L587.6,436.0L588.0,439.0L588.4,442.0L588.8,445.0L589.2,448.0L589.7,451.0L590.2,454.0L590.7,457.0L591.2,460.0L591.7,463.0L592.3,466.0L592.9,469.0L593.5,472.0L594.2,475.0L594.8,478.0L595.5,481.0L596.2,484.0L596.9,487.0L597.6,490.0L598.3,493.0L599.1,496.0L599.8,499.0L600.6,502.0L601.3,505.0L602.1,508.0L602.9,511.0L603.8,514.0L604.7,517.0L605.6,520.0L606.6,523.0L607.5,526.0L608.4,529.0L609.2,532.0L610.1,535.0L610.9,538.0L611.7,541.0L612.5,544.0L613.4,547.0L614.1,550.0L614.9,553.0L615.7,556.0L616.4,559.0L617.1,562.0L617.8,565.0L618.4,568.0L619.1,571.0L619.7,574.0L620.4,577.0L621.0,580.0L621.6,583.0L622.1,586.0L622.7,589.0L623.2,592.0L623.7,595.0L624.2,598.0L624.7,601.0L625.2,604.0L625.7,607.0L626.2,610.0L626.7,613.0L627.2,616.0L627.6,619.0L628.1,622.0L628.6,625.0L629.1,628.0L629.5,631.0L630.0,634.0L630.5,637.0L631.1,640.0L631.6,643.0L632.1,646.0L632.6,649.0L633.1,652.0L633.7,655.0L634.2,658.0L634.8,661.0L635.3,664.0L635.9,667.0L636.5,670.0L637.0,673.0L637.6,676.0L638.2,679.0L638.8,682.0L639.4,685.0L640.0,688.0L640.6,691.0L641.2,694.0L641.8,697.0L642.5,700.0L643.1,703.0L643.7,706.0L644.4,709.0L645.1,712.0L645.8,715.0L646.5,718.0L647.2,721.0L648.0,724.0L648.7,727.0L649.4,730.0L650.1,733.0L650.8,736.0L651.5,739.0L652.3,742.0L653.0,745.0L653.6,748.0L654.3,751.0L655.0,754.0L655.7,757.0L656.4,760.0L657.0,763.0L657.7,766.0L658.3,769.0L658.9,772.0L659.6,775.0L660.2,778.0L660.8,781.0L661.5,784.0L662.1,787.0L662.7,790.0L663.4,793.0L664.0,796.0L664.7,799.0L665.3,802.0L666.0,805.0L666.6,808.0L667.3,811.0L667.9,814.0L668.6,817.0L669.3,820.0L669.9,823.0L670.6,826.0L671.3,829.0L672.0,832.0L672.6,835.0L673.3,838.0L674.0,841.0L674.7,844.0L675.4,847.0L676.1,850.0L676.8,853.0L677.6,856.0L678.3,859.0L679.1,862.0L679.8,865.0L680.6,868.0L681.4,871.0L682.2,874.0L683.0,877.0L683.9,880.0L684.7,883.0L685.5,886.0L686.3,889.0L687.2,892.0L688.0,895.0L688.9,898.0L689.8,901.0L690.6,904.0L691.5,907.0L692.3,910.0L693.2,913.0L694.1,916.0L694.9,919.0L695.8,922.0L696.6,925.0L697.5,928.0L698.4,931.0L699.2,934.0L700.1,937.0L701.0,940.0L701.9,943.0L702.7,946.0L703.6,949.0L704.5,952.0L705.4,955.0L706.2,958.0L707.1,961.0L708.0,964.0L708.8,967.0L709.7,970.0L710.5,973.0L711.4,976.0L712.2,979.0L713.1,982.0L713.9,985.0L714.7,988.0L715.6,991.0L716.4,994.0L717.2,997.0L718.0,1000.0L718.8,1003.0L719.7,1006.0L720.4,1009.0L721.2,1012.0L722.0,1015.0L722.8,1018.0L723.5,1021.0L724.3,1024.0L725.0,1027.0L725.8,1030.0L726.5,1033.0L727.2,1036.0L728.0,1039.0L728.7,1042.0L729.4,1045.0L730.1,1048.0L730.8,1051.0L731.5,1054.0L732.1,1057.0L732.8,1060.0L733.5,1063.0L734.2,1066.0L734.8,1069.0L735.5,1072.0L736.1,1075.0L736.8,1078.0L737.4,1081.0L738.0,1084.0L738.6,1087.0L739.1,1090.0L739.7,1093.0L740.2,1096.0L740.7,1099.0L741.2,1102.0L741.7,1105.0L742.2,1108.0L742.7,1111.0L743.1,1114.0L743.6,1117.0L744.0,1120.0L744.5,1123.0L744.9,1126.0L745.3,1129.0L745.7,1132.0L746.0,1135.0L746.4,1138.0L746.7,1141.0L747.0,1144.0L747.4,1147.0L747.7,1150.0L748.0,1153.0L748.3,1156.0L748.5,1159.0L748.8,1162.0L749.1,1165.0L749.3,1168.0L749.6,1171.0L749.8,1174.0L750.1,1177.0L750.3,1180.0L750.5,1183.0L750.7,1186.0L750.9,1189.0L751.1,1192.0L751.3,1195.0L751.5,1198.0L751.7,1201.0L751.8,1204.0L752.0,1207.0L752.2,1210.0L752.3,1213.0L752.5,1216.0L752.6,1219.0L752.8,1222.0L752.9,1225.0L753.1,1228.0L753.2,1231.0L753.4,1234.0L753.5,1237.0L753.7,1240.0L753.8,1243.0L753.9,1246.0L754.1,1249.0L754.2,1252.0L754.3,1255.0L754.4,1258.0L754.5,1261.0L754.6,1264.0L754.7,1267.0L754.8,1270.0L754.9,1273.0L755.0,1276.0L755.1,1279.0L755.2,1282.0L755.3,1285.0L755.4,1288.0L755.5,1291.0L755.6,1294.0L755.7,1297.0L755.8,1300.0L755.9,1303.0L755.9,1306.0L755.9,1309.0L756.0,1312.0L756.0,1315.0L756.0,1316.9" stroke="#00ffff"/>
<circle cx="756.0" cy="1313.5" r="3.40" fill="#00ffff" stroke="none"/>
<circle cx="333.0" cy="1316.6" r="3.40" fill="#00ffff" stroke="none"/>
<path d="M333.0,1320.0L333.0,1317.0L333.0,1314.0L333.0,1311.0L333.0,1308.0L333.0,1305.0L333.0,1302.0L333.0,1299.0L333.0,1296.0L333.0,1293.0L333.0,1290.0L333.0,1287.0L333.0,1284.0L333.0,1281.0L333.0,1278.0L333.0,1275.0L333.0,1272.0L333.0,1269.0L333.0,1266.0L333.0,1263.0L333.0,1260.0L333.0,1257.0L333.1,1254.0L333.1,1251.0L333.1,1248.0L333.1,1245.0L333.1,1242.0L333.1,1239.0L333.1,1236.0L333.1,1233.0L333.1,1230.0L333.1,1227.0L333.1,1224.0L333.1,1221.0L333.1,1218.0L333.1,1215.0L333.1,1212.0L333.1,1209.0L333.1,1206.0L333.2,1203.0L333.2,1200.0L333.2,1197.0L333.2,1194.0L333.2,1191.0L333.2,1188.0L333.2,1185.0L333.2,1182.0L333.2,1179.0L333.2,1176.0L333.2,1173.0L333.2,1170.0L333.3,1167.0L333.3,1164.0L333.3,1161.0L333.3,1158.0L333.3,1155.0L333.3,1152.0L333.3,1149.0L333.3,1146.0L333.3,1143.0L333.3,1140.0L333.4,1137.0L333.4,1134.0L333.4,1131.0L333.4,1128.0L333.4,1125.0L333.4,1122.0L333.4,1119.0L333.4,1116.0L333.4,1113.0L333.5,1110.0L333.5,1107.0L333.5,1104.0L333.5,1101.0L333.5,1098.0L333.5,1095.0L333.5,1092.0L333.6,1089.0L333.6,1086.0L333.6,1083.0L333.6,1080.0L333.6,1077.0L333.7,1074.0L333.7,1071.0L333.7,1068.0L333.8,1065.0L333.8,1062.0L333.8,1059.0L333.8,1056.0L333.9,1053.0L333.9,1050.0L333.9,1047.0L334.0,1044.0L334.0,1041.0L334.0,1038.0L334.1,1035.0L334.1,1032.0L334.2,1029.0L334.2,1026.0L334.2,1023.0L334.3,1020.0L334.3,1017.0L334.3,1014.0L334.4,1011.0L334.4,1008.0L334.4,1005.0L334.5,1002.0L334.5,999.0L334.5,996.0L334.6,993.0L334.6,990.0L334.6,987.0L334.7,984.0L334.7,981.0L334.7,978.0L334.8,975.0L334.8,972.0L334.8,969.0L334.9,966.0L334.9,963.0L335.0,960.0L335.1,957.0L335.2,954.0L335.3,951.0L335.4,948.0L335.5,945.0L335.6,942.0L335.7,939.0L335.8,936.0L335.9,933.0L336.1,930.0L336.2,927.0L336.3,924.0L336.5,921.0L336.6,918.0L336.8,915.0L337.0,912.0L337.3,909.0L337.6,906.0L338.0,903.0L338.4,900.0L338.9,897.0L339.4,894.0L340.0,891.0L340.5,888.0L341.1,885.0L341.6,882.0L342.2,879.0L342.8,876.0L343.5,873.0L344.1,870.0L344.8,867.0L345.5,864.0L346.2,861.0L346.9,858.0L347.6,855.0L348.3,852.0L349.1,849.0L349.8,846.0L350.6,843.0L351.4,840.0L352.2,837.0L353.0,834.0L353.8,831.0L354.6,828.0L355.3,825.0L356.1,822.0L356.9,819.0L357.6,816.0L358.4,813.0L359.1,810.0L359.8,807.0L360.5,804.0L361.1,801.0L361.8,798.0L362.5,795.0L363.1,792.0L363.8,789.0L364.4,786.0L365.0,783.0L365.7,780.0L366.3,777.0L366.9,774.0L367.5,771.0L368.2,768.0L368.8,765.0L369.4,762.0L370.0,759.0L370.7,756.0L371.3,753.0L371.9,750.0L372.6,747.0L373.2,744.0L373.9,741.0L374.5,738.0L375.1,735.0L375.8,732.0L376.4,729.0L377.0,726.0L377.6,723.0L378.2,720.0L378.8,717.0L379.4,714.0L379.9,711.0L380.5,708.0L381.0,705.0L381.5,702.0L382.0,699.0L382.6,696.0L383.1,693.0L383.6,690.0L384.1,687.0L384.5,684.0L385.0,681.0L385.5,678.0L386.0,675.0L386.4,672.0L386.9,669.0L387.3,666.0L387.8,663.0L388.2,660.0L388.6,657.0L389.1,654.0L389.5,651.0L389.9,648.0L390.2,645.0L390.6,642.0L391.0,639.0L391.4,636.0L391.7,633.0L392.1,630.0L392.4,627.0L392.8,624.0L393.2,621.0L393.5,618.0L393.9,615.0L394.3,612.0L394.6,609.0L395.0,606.0L395.4,603.0L395.8,600.0L396.2,597.0L396.6,594.0L397.0,591.0L397.4,588.0L397.8,585.0L398.2,582.0L398.7,579.0L399.1,576.0L399.5,573.0L399.9,570.0L400.3,567.0L400.7,564.0L401.2,561.0L401.6,558.0L402.0,555.0L402.4,552.0L402.9,549.0L403.3,546.0L403.7,543.0L404.1,540.0L404.5,537.0L404.9,534.0L405.4,531.0L405.8,528.0L406.2,525.0L406.7,522.0L407.1,519.0L407.6,516.0L408.0,513.0L408.5,510.0L409.0,507.0L409.5,504.0L410.0,501.0L410.6,498.0L411.2,495.0L411.7,492.0L412.3,489.0L412.9,486.0L413.6,483.0L414.2,480.0L414.8,477.0L415.4,474.0L416.0,471.0L416.6,468.0L417.2,465.0L417.8,462.0L418.3,459.0L418.8,456.0L419.3,453.0L419.8,450.0L420.3,447.0L420.7,444.0L421.2,441.0L421.6,438.0L422.0,435.0L422.4,432.0L422.9,429.0L423.3,426.0L423.7,423.0L424.1,420.0L424.5,417.0L424.9,414.0L425.3,411.0L425.6,408.0L426.0,405.0L426.4,402.0L426.8,399.0L427.2,396.0L427.6,393.0L427.9,390.0L428.3,387.0L428.7,384.0L429.0,381.0L429.4,378.0L429.8,375.0L430.1,372.0L430.5,369.0L430.8,366.0L431.2,363.0L431.6,360.0L432.0,357.0L432.4,354.0L432.8,351.0L433.2,348.0L433.6,345.0L434.0,342.0L434.5,339.0L434.9,336.0L435.3,333.0L435.8,330.0L436.2,327.0L436.7,324.0L437.1,321.0L437.6,318.0L438.0,315.0L438.5,312.0L439.0,309.0L439.4,306.0L439.9,303.0L440.4,300.0L440.9,297.0L441.3,294.0L441.8,291.0L442.3,288.0L442.8,285.0L443.3,282.0L443.8,279.0L444.4,276.0L444.9,273.0L445.4,270.0L445.9,267.0L446.4,264.0L446.9,261.0L447.4,258.0L447.9,255.0L448.4,252.0L448.9,249.0L449.4,246.0L449.9,243.0L450.4,240.0L450.8,237.0L451.3,234.0L451.8,231.0L452.2,228.0L452.7,225.0L453.2,222.0L453.7,219.0L454.1,216.0L454.6,213.0L455.1,210.0L455.7,207.0L456.2,204.0L456.7,201.0L457.3,198.0L457.8,195.0L458.4,192.0L459.0,189.0L459.6,186.0L460.2,183.0L460.8,180.0L461.4,177.0L462.0,174.0L462.7,171.0L463.3,168.0L464.0,165.0L464.7,162.0L465.3,159.0L466.1,156.0L466.8,153.0L467.5,150.0L468.3,147.0L469.1,144.0L469.9,141.0L470.7,138.0L471.6,135.0L472.5,132.0L473.4,129.0L474.0,127.0M475.0,121.0L475.0,124.0L475.0,127.0L475.0,130.0L475.0,133.0L475.0,136.0L475.0,139.0L475.0,142.0L475.0,145.0L475.0,148.0L475.0,151.0L475.0,154.0L475.0,157.0L475.0,160.0L475.0,163.0L475.0,166.0L475.1,169.0L475.2,172.0L475.3,175.0L475.4,178.0L475.5,181.0L475.6,184.0L475.8,187.0L475.9,190.0L476.0,193.0L476.2,196.0L476.3,199.0L476.4,202.0L476.5,205.0L476.5,208.0L476.6,211.0L476.7,214.0L476.8,217.0L476.9,220.0L476.9,223.0L477.0,226.0L477.1,229.0L477.2,232.0L477.3,235.0L477.4,238.0L477.5,241.0L477.6,244.0L477.7,247.0L477.8,250.0L478.0,253.0L478.1,256.0L478.3,259.0L478.5,262.0L478.7,265.0L478.9,268.0L479.2,271.0L479.4,274.0L479.7,277.0L479.9,280.0L480.2,283.0L480.5,286.0L480.7,289.0L481.0,292.0L481.2,295.0L481.5,298.0L481.7,301.0L481.9,304.0L482.2,307.0L482.4,310.0L482.6,313.0L482.8,316.0L483.1,319.0L483.3,322.0L483.5,325.0L483.7,328.0L484.0,331.0L484.2,334.0L484.4,337.0L484.6,340.0L484.8,343.0L485.1,346.0L485.3,349.0L485.5,352.0L485.7,355.0L486.0,358.0L486.2,361.0L486.4,364.0L486.6,367.0L486.8,370.0L487.1,373.0L487.3,376.0L487.5,379.0L487.7,382.0L488.0,385.0L488.2,388.0L488.4,391.0L488.7,394.0L488.9,397.0L489.2,400.0L489.4,403.0L489.7,406.0L489.9,409.0L490.2,412.0L490.5,415.0L490.8,418.0L491.1,421.0L491.4,424.0L491.7,427.0L492.0,430.0L492.3,433.0L492.6,436.0L492.9,439.0L493.2,442.0L493.5,445.0L493.8,448.0L494.2,451.0L494.5,454.0L494.8,457.0L495.1,460.0L495.5,463.0L495.8,466.0L496.1,469.0L496.5,472.0L496.8,475.0L497.1,478.0L497.5,481.0L497.8,484.0L498.2,487.0L498.6,490.0L498.9,493.0L499.3,496.0L499.7,499.0L500.1,502.0L500.5,505.0L501.0,508.0L501.4,511.0L501.9,514.0L502.4,517.0L502.9,520.0L503.4,523.0L504.0,526.0L504.5,529.0L505.1,532.0L505.6,535.0L506.2,538.0L506.7,541.0L507.3,544.0L507.8,547.0L508.3,550.0L508.9,553.0L509.4,556.0L509.8,559.0L510.3,562.0L510.8,565.0L511.3,568.0L511.7,571.0L512.2,574.0L512.7,577.0L513.1,580.0L513.6,583.0L514.0,586.0L514.5,589.0L514.9,592.0L515.4,595.0L515.8,598.0L516.2,601.0L516.6,604.0L517.0,607.0L517.4,610.0L517.8,613.0L518.2,616.0L518.6,619.0L519.0,622.0L519.4,625.0L519.7,628.0L520.1,631.0L520.5,634.0L520.8,637.0L521.2,640.0L521.6,643.0L521.9,646.0L522.3,649.0L522.6,652.0L523.0,655.0L523.3,658.0L523.6,661.0L523.9,664.0L524.2,667.0L524.5,670.0L524.8,673.0L525.1,676.0L525.4,679.0L525.7,682.0L526.0,685.0L526.3,688.0L526.6,691.0L526.9,694.0L527.3,697.0L527.6,700.0L527.9,703.0L528.3,706.0L528.7,709.0L529.1,712.0L529.5,715.0L529.9,718.0L530.4,721.0L530.9,724.0L531.4,727.0L531.9,730.0L532.4,733.0L532.9,736.0L533.4,739.0L533.9,742.0L534.5,745.0L535.0,748.0L535.5,751.0L536.0,754.0L536.5,757.0L537.0,760.0L537.5,763.0L538.0,766.0L538.5,769.0L539.0,772.0L539.5,775.0L540.0,778.0L540.5,781.0L540.9,784.0L541.4,787.0L541.9,790.0L542.4,793.0L542.9,796.0L543.4,799.0L543.9,802.0L544.4,805.0L544.8,808.0L545.3,811.0L545.8,814.0L546.3,817.0L546.8,820.0L547.3,823.0L547.8,826.0L548.3,829.0L548.8,832.0L549.3,835.0L549.7,838.0L550.2,841.0L550.7,844.0L551.2,847.0L551.7,850.0L552.1,853.0L552.6,856.0L553.1,859.0L553.5,862.0L554.0,865.0L554.4,868.0L554.8,871.0L555.3,874.0L555.7,877.0L556.1,880.0L556.5,883.0L557.0,886.0L557.4,889.0L557.8,892.0L558.2,895.0L558.7,898.0L559.1,901.0L559.6,904.0L560.0,907.0L560.5,910.0L561.0,913.0L561.5,916.0L562.0,919.0L562.5,922.0L563.1,925.0L563.6,928.0L564.2,931.0L564.7,934.0L565.3,937.0L565.8,940.0L566.4,943.0L567.0,946.0L567.6,949.0L568.1,952.0L568.7,955.0L569.3,958.0L569.8,961.0L570.4,964.0L570.9,967.0L571.5,970.0L572.1,973.0L572.7,976.0L573.2,979.0L573.8,982.0L574.4,985.0L575.0,988.0L575.5,991.0L576.1,994.0L576.7,997.0L577.2,1000.0L577.8,1003.0L578.3,1006.0L578.9,1009.0L579.4,1012.0L579.9,1015.0L580.4,1018.0L581.0,1021.0L581.5,1024.0L582.0,1027.0L582.5,1030.0L583.0,1033.0L583.5,1036.0L584.0,1039.0L584.5,1042.0L585.0,1045.0L585.5,1048.0L585.9,1051.0L586.4,1054.0L586.8,1057.0L587.2,1060.0L587.6,1063.0L588.0,1066.0L588.4,1069.0L588.8,1072.0L589.2,1075.0L589.6,1078.0L590.0,1081.0L590.3,1084.0L590.7,1087.0L591.0,1090.0L591.4,1093.0L591.7,1096.0L592.0,1099.0L592.4,1102.0L592.7,1105.0L592.9,1108.0L593.2,1111.0L593.5,1114.0L593.7,1117.0L594.0,1120.0L594.2,1123.0L594.4,1126.0L594.6,1129.0L594.7,1132.0L594.9,1135.0L595.1,1138.0L595.3,1141.0L595.5,1144.0L595.6,1147.0L595.8,1150.0L596.0,1153.0L596.1,1156.0L596.3,1159.0L596.4,1162.0L596.6,1165.0L596.7,1168.0L596.9,1171.0L597.0,1174.0L597.1,1177.0L597.3,1180.0L597.4,1183.0L597.5,1186.0L597.6,1189.0L597.7,1192.0L597.9,1195.0L598.0,1198.0L598.1,1201.0L598.2,1204.0L598.3,1207.0L598.4,1210.0L598.5,1213.0L598.6,1216.0L598.7,1219.0L598.8,1222.0L598.9,1225.0L599.0,1228.0L599.1,1231.0L599.2,1234.0L599.3,1237.0L599.4,1240.0L599.5,1243.0L599.6,1246.0L599.7,1249.0L599.8,1252.0L599.9,1255.0L600.0,1258.0L600.1,1261.0L600.2,1264.0L600.3,1267.0L600.3,1270.0L600.4,1273.0L600.5,1276.0L600.6,1279.0L600.6,1282.0L600.7,1285.0L600.8,1288.0L600.8,1291.0L600.9,1294.0L601.0,1297.0L601.0,1300.0L601.1,1303.0L601.1,1306.0L601.2,1309.0L601.2,1312.0L601.3,1315.0L601.3,1317.5" stroke="#ff00ff"/>
<circle cx="601.3" cy="1314.1" r="3.40" fill="#ff00ff" stroke="none"/>
<circle cx="333.0" cy="1316.6" r="3.40" fill="#ff00ff" stroke="none"/>
<path d="M333.0,1330.0L333.0,1327.0L333.0,1324.0L333.0,1321.0L333.0,1318.0L333.0,1315.0L333.0,1312.0L333.0,1309.0L333.0,1306.0L333.0,1303.0L333.0,1300.0L333.0,1297.0L333.0,1294.0L333.0,1291.0L333.0,1288.0L333.0,1285.0L333.0,1282.0L333.0,1279.0L333.0,1276.0L333.0,1273.0L333.0,1270.0L333.0,1267.0L333.0,1264.0L333.0,1261.0L333.0,1258.0L333.0,1255.0L333.0,1252.0L333.0,1249.0L333.0,1246.0L333.0,1243.0L333.0,1240.0L333.0,1237.0L333.0,1234.0L333.0,1231.0L333.0,1228.0L333.0,1225.0L333.0,1222.0L333.0,1219.0L333.0,1216.0L333.0,1213.0L333.0,1210.0L333.0,1207.0L333.0,1204.0L333.0,1201.0L333.0,1198.0L333.0,1195.0L333.0,1192.0L333.0,1189.0L333.0,1186.0L333.0,1183.0L333.0,1180.0L333.0,1177.0L333.0,1174.0L333.0,1171.0L333.0,1168.0L333.0,1165.0L333.0,1162.0L333.0,1159.0L333.0,1156.0L333.0,1153.0L333.0,1150.0L333.0,1147.0L333.0,1144.0L333.0,1141.0L333.0,1138.0L333.0,1135.0L333.0,1132.0L333.0,1129.0L333.0,1126.0L333.0,1123.0L333.0,1120.0L333.0,1117.0L333.0,1114.0L333.0,1111.0L333.0,1108.0L333.0,1105.0L333.0,1102.0L333.0,1099.0L333.0,1096.0L333.0,1093.0L333.0,1090.0L333.0,1087.0L333.0,1084.0L333.0,1081.0L333.0,1078.0L333.0,1075.0L333.0,1072.0L333.0,1069.0L333.0,1066.0L333.0,1063.0L333.0,1060.0L333.1,1057.0L333.1,1054.0L333.1,1051.0L333.1,1048.0L333.1,1045.0L333.1,1042.0L333.1,1039.0L333.1,1036.0L333.1,1033.0L333.1,1030.0L333.1,1027.0L333.2,1024.0L333.2,1021.0L333.2,1018.0L333.2,1015.0L333.2,1012.0L333.2,1009.0L333.2,1006.0L333.3,1003.0L333.3,1000.0L333.3,997.0L333.3,994.0L333.3,991.0L333.3,988.0L333.3,985.0L333.4,982.0L333.4,979.0L333.4,976.0L333.4,973.0L333.4,970.0L333.5,967.0L333.5,964.0L333.5,961.0L333.5,958.0L333.6,955.0L333.6,952.0L333.6,949.0L333.7,946.0L333.7,943.0L333.8,940.0L333.8,937.0L333.9,934.0L334.0,931.0L334.1,928.0L334.2,925.0L334.3,922.0L334.5,919.0L334.7,916.0L334.9,913.0L335.1,910.0L335.4,907.0L335.6,904.0L335.9,901.0L336.2,898.0L336.5,895.0L336.8,892.0L337.1,889.0L337.4,886.0L337.7,883.0L338.0,880.0L338.4,877.0L338.8,874.0L339.2,871.0L339.6,868.0L340.0,865.0L340.5,862.0L340.9,859.0L341.4,856.0L341.8,853.0L342.3,850.0L342.8,847.0L343.3,844.0L343.8,841.0L344.3,838.0L344.8,835.0L345.3,832.0L345.9,829.0L346.4,826.0L346.9,823.0L347.5,820.0L348.0,817.0L348.5,814.0L349.1,811.0L349.6,808.0L350.1,805.0L350.6,802.0L351.1,799.0L351.7,796.0L352.2,793.0L352.7,790.0L353.3,787.0L353.8,784.0L354.3,781.0L354.9,778.0L355.4,775.0L355.9,772.0L356.4,769.0L356.9,766.0L357.4,763.0L357.9,760.0L358.4,757.0L358.8,754.0L359.3,751.0L359.8,748.0L360.2,745.0L360.7,742.0L361.1,739.0L361.5,736.0L362.0,733.0L362.4,730.0L362.8,727.0L363.3,724.0L363.7,721.0L364.1,718.0L364.5,715.0L364.9,712.0L365.3,709.0L365.7,706.0L366.1,703.0L366.5,700.0L366.9,697.0L367.3,694.0L367.7,691.0L368.1,688.0L368.4,685.0L368.8,682.0L369.2,679.0L369.5,676.0L369.9,673.0L370.3,670.0L370.6,667.0L371.0,664.0L371.3,661.0L371.7,658.0L372.0,655.0L372.3,652.0L372.6,649.0L373.0,646.0L373.3,643.0L373.6,640.0L373.9,637.0L374.2,634.0L374.5,631.0L374.8,628.0L375.1,625.0L375.3,622.0L375.6,619.0L375.9,616.0L376.2,613.0L376.5,610.0L376.8,607.0L377.1,604.0L377.4,601.0L377.7,598.0L378.0,595.0L378.3,592.0L378.6,589.0L378.9,586.0L379.2,583.0L379.5,580.0L379.8,577.0L380.1,574.0L380.4,571.0L380.7,568.0L381.0,565.0L381.3,562.0L381.6,559.0L381.9,556.0L382.2,553.0L382.5,550.0L382.8,547.0L383.0,544.0L383.3,541.0L383.6,538.0L383.9,535.0L384.2,532.0L384.5,529.0L384.7,526.0L385.0,523.0L385.3,520.0L385.6,517.0L385.9,514.0L386.2,511.0L386.5,508.0L386.8,505.0L387.1,502.0L387.4,499.0L387.8,496.0L388.1,493.0L388.4,490.0L388.7,487.0L389.1,484.0L389.4,481.0L389.7,478.0L390.1,475.0L390.4,472.0L390.7,469.0L391.1,466.0L391.4,463.0L391.7,460.0L392.1,457.0L392.4,454.0L392.7,451.0L393.1,448.0L393.4,445.0L393.8,442.0L394.1,439.0L394.5,436.0L394.8,433.0L395.2,430.0L395.5,427.0L395.9,424.0L396.2,421.0L396.5,418.0L396.8,415.0L397.2,412.0L397.5,409.0L397.8,406.0L398.0,403.0L398.3,400.0L398.6,397.0L398.8,394.0L399.0,391.0L399.3,388.0L399.5,385.0L399.7,382.0L399.9,379.0L400.1,376.0L400.3,373.0L400.6,370.0L400.8,367.0L401.0,364.0L401.2,361.0L401.5,358.0L401.7,355.0L402.0,352.0L402.3,349.0L402.5,346.0L402.8,343.0L403.1,340.0L403.4,337.0L403.6,334.0L403.9,331.0L404.2,328.0L404.5,325.0L404.8,322.0L405.2,319.0L405.5,316.0L405.8,313.0L406.1,310.0L406.5,307.0L406.8,304.0L407.2,301.0L407.6,298.0L408.0,295.0L408.4,292.0L408.8,289.0L409.1,286.0L409.5,283.0L409.8,280.0L410.2,277.0L410.5,274.0L410.9,271.0L411.2,268.0L411.5,265.0L411.9,262.0L412.2,259.0L412.5,256.0L412.8,253.0L413.1,250.0L413.5,247.0L413.8,244.0L414.1,241.0L414.4,238.0L414.7,235.0L414.9,232.0L415.2,229.0L415.5,226.0L415.8,223.0L416.1,220.0L416.4,217.0L416.7,214.0L417.0,211.0L417.3,208.0L417.6,205.0L417.9,202.0L418.3,199.0L418.6,196.0L419.0,193.0L419.3,190.0L419.7,187.0L420.1,184.0L420.5,181.0L420.9,178.0L421.3,175.0L421.7,172.0L422.1,169.0L422.5,166.0L422.9,163.0L423.2,160.0L423.6,157.0L423.9,154.0L424.3,151.0L424.6,148.0L424.9,145.0L425.3,142.0L425.6,139.0L425.9,136.0L426.2,133.0L426.4,130.0L426.7,127.0L427.0,124.0M427.9,117.0L427.9,120.0L428.0,123.0L428.0,126.0L428.1,129.0L428.1,132.0L428.1,135.0L428.2,138.0L428.2,141.0L428.2,144.0L428.3,147.0L428.3,150.0L428.3,153.0L428.3,156.0L428.4,159.0L428.4,162.0L428.4,165.0L428.4,168.0L428.4,171.0L428.4,174.0L428.4,177.0L428.4,180.0L428.5,183.0L428.5,186.0L428.5,189.0L428.5,192.0L428.5,195.0L428.5,198.0L428.5,201.0L428.5,204.0L428.5,207.0L428.5,210.0L428.5,213.0L428.5,216.0L428.6,219.0L428.6,222.0L428.6,225.0L428.6,228.0L428.6,231.0L428.6,234.0L428.6,237.0L428.6,240.0L428.7,243.0L428.7,246.0L428.7,249.0L428.7,252.0L428.7,255.0L428.8,258.0L428.8,261.0L428.8,264.0L428.9,267.0L429.0,270.0L429.1,273.0L429.2,276.0L429.4,279.0L429.5,282.0L429.7,285.0L429.9,288.0L430.1,291.0L430.3,294.0L430.5,297.0L430.6,300.0L430.8,303.0L431.0,306.0L431.2,309.0L431.4,312.0L431.6,315.0L431.8,318.0L432.0,321.0L432.2,324.0L432.5,327.0L432.7,330.0L432.9,333.0L433.2,336.0L433.4,339.0L433.6,342.0L433.8,345.0L434.0,348.0L434.2,351.0L434.4,354.0L434.6,357.0L434.8,360.0L435.0,363.0L435.2,366.0L435.4,369.0L435.6,372.0L435.8,375.0L436.0,378.0L436.2,381.0L436.3,384.0L436.5,387.0L436.7,390.0L436.9,393.0L437.1,396.0L437.2,399.0L437.4,402.0L437.6,405.0L437.8,408.0L437.9,411.0L438.1,414.0L438.3,417.0L438.4,420.0L438.6,423.0L438.8,426.0L438.9,429.0L439.1,432.0L439.2,435.0L439.4,438.0L439.6,441.0L439.8,444.0L439.9,447.0L440.1,450.0L440.3,453.0L440.5,456.0L440.7,459.0L440.9,462.0L441.1,465.0L441.4,468.0L441.6,471.0L441.8,474.0L442.0,477.0L442.3,480.0L442.5,483.0L442.7,486.0L443.0,489.0L443.2,492.0L443.5,495.0L443.7,498.0L444.0,501.0L444.2,504.0L444.5,507.0L444.8,510.0L445.0,513.0L445.3,516.0L445.6,519.0L445.9,522.0L446.2,525.0L446.5,528.0L446.8,531.0L447.1,534.0L447.4,537.0L447.7,540.0L448.1,543.0L448.4,546.0L448.7,549.0L449.0,552.0L449.3,555.0L449.6,558.0L449.9,561.0L450.3,564.0L450.6,567.0L450.9,570.0L451.3,573.0L451.6,576.0L451.9,579.0L452.3,582.0L452.6,585.0L452.9,588.0L453.3,591.0L453.6,594.0L453.9,597.0L454.2,600.0L454.5,603.0L454.8,606.0L455.0,609.0L455.3,612.0L455.6,615.0L455.8,618.0L456.1,621.0L456.3,624.0L456.6,627.0L456.8,630.0L457.0,633.0L457.3,636.0L457.5,639.0L457.7,642.0L458.0,645.0L458.2,648.0L458.4,651.0L458.6,654.0L458.9,657.0L459.1,660.0L459.3,663.0L459.5,666.0L459.7,669.0L459.9,672.0L460.1,675.0L460.3,678.0L460.5,681.0L460.7,684.0L460.9,687.0L461.1,690.0L461.3,693.0L461.5,696.0L461.8,699.0L462.0,702.0L462.2,705.0L462.4,708.0L462.7,711.0L463.0,714.0L463.2,717.0L463.5,720.0L463.8,723.0L464.1,726.0L464.4,729.0L464.7,732.0L465.0,735.0L465.3,738.0L465.6,741.0L465.9,744.0L466.2,747.0L466.5,750.0L466.9,753.0L467.2,756.0L467.5,759.0L467.8,762.0L468.1,765.0L468.5,768.0L468.8,771.0L469.1,774.0L469.5,777.0L469.8,780.0L470.1,783.0L470.5,786.0L470.8,789.0L471.2,792.0L471.5,795.0L471.8,798.0L472.2,801.0L472.5,804.0L472.9,807.0L473.2,810.0L473.5,813.0L473.9,816.0L474.2,819.0L474.6,822.0L474.9,825.0L475.2,828.0L475.6,831.0L475.9,834.0L476.3,837.0L476.6,840.0L477.0,843.0L477.3,846.0L477.6,849.0L478.0,852.0L478.3,855.0L478.7,858.0L479.0,861.0L479.3,864.0L479.7,867.0L480.0,870.0L480.3,873.0L480.7,876.0L481.0,879.0L481.3,882.0L481.7,885.0L482.0,888.0L482.3,891.0L482.7,894.0L483.0,897.0L483.4,900.0L483.7,903.0L484.1,906.0L484.5,909.0L484.9,912.0L485.3,915.0L485.7,918.0L486.1,921.0L486.6,924.0L487.0,927.0L487.5,930.0L488.0,933.0L488.4,936.0L488.9,939.0L489.4,942.0L489.9,945.0L490.3,948.0L490.8,951.0L491.3,954.0L491.7,957.0L492.1,960.0L492.6,963.0L493.0,966.0L493.4,969.0L493.8,972.0L494.2,975.0L494.5,978.0L494.9,981.0L495.3,984.0L495.7,987.0L496.0,990.0L496.4,993.0L496.8,996.0L497.2,999.0L497.6,1002.0L498.0,1005.0L498.3,1008.0L498.8,1011.0L499.2,1014.0L499.6,1017.0L500.0,1020.0L500.5,1023.0L501.0,1026.0L501.4,1029.0L501.9,1032.0L502.4,1035.0L502.9,1038.0L503.3,1041.0L503.8,1044.0L504.3,1047.0L504.7,1050.0L505.1,1053.0L505.5,1056.0L505.9,1059.0L506.2,1062.0L506.6,1065.0L506.9,1068.0L507.2,1071.0L507.5,1074.0L507.8,1077.0L508.1,1080.0L508.4,1083.0L508.7,1086.0L508.9,1089.0L509.2,1092.0L509.4,1095.0L509.7,1098.0L509.9,1101.0L510.2,1104.0L510.4,1107.0L510.7,1110.0L510.9,1113.0L511.1,1116.0L511.3,1119.0L511.6,1122.0L511.8,1125.0L511.9,1128.0L512.1,1131.0L512.3,1134.0L512.5,1137.0L512.6,1140.0L512.8,1143.0L512.9,1146.0L513.1,1149.0L513.2,1152.0L513.4,1155.0L513.5,1158.0L513.7,1161.0L513.8,1164.0L513.9,1167.0L514.0,1170.0L514.2,1173.0L514.3,1176.0L514.4,1179.0L514.5,1182.0L514.6,1185.0L514.6,1188.0L514.7,1191.0L514.8,1194.0L514.9,1197.0L515.0,1200.0L515.0,1203.0L515.1,1206.0L515.2,1209.0L515.3,1212.0L515.3,1215.0L515.4,1218.0L515.4,1221.0L515.5,1224.0L515.6,1227.0L515.6,1230.0L515.7,1233.0L515.7,1236.0L515.8,1239.0L515.8,1242.0L515.9,1245.0L515.9,1248.0L516.0,1251.0L516.0,1254.0L516.0,1257.0L516.1,1260.0L516.1,1263.0L516.2,1266.0L516.2,1269.0L516.2,1272.0L516.3,1275.0L516.3,1278.0L516.3,1281.0L516.3,1284.0L516.4,1287.0L516.4,1290.0L516.4,1293.0L516.4,1296.0L516.4,1299.0L516.4,1302.0L516.5,1305.0L516.5,1308.0L516.5,1311.0L516.5,1314.0L516.5,1315.9" stroke="#800000"/>
<circle cx="516.5" cy="1312.5" r="3.40" fill="#800000" stroke="none"/>
<circle cx="333.0" cy="1326.6" r="3.40" fill="#800000" stroke="none"/>
<path d="M333.2,1323.8L333.2,1320.8L333.2,1317.8L333.2,1314.8L333.2,1311.8L333.2,1308.8L333.2,1305.8L333.2,1302.8L333.2,1299.8L333.2,1296.8L333.2,1293.8L333.2,1290.8L333.2,1287.8L333.2,1284.8L333.2,1281.8L333.3,1278.8L333.3,1275.8L333.3,1272.8L333.3,1269.8L333.3,1266.8L333.3,1263.8L333.3,1260.8L333.3,1257.8L333.3,1254.8L333.3,1251.8L333.3,1248.8L333.3,1245.8L333.3,1242.8L333.3,1239.8L333.3,1236.8L333.3,1233.8L333.3,1230.8L333.3,1227.8L333.3,1224.8L333.3,1221.8L333.3,1218.8L333.3,1215.8L333.3,1212.8L333.3,1209.8L333.3,1206.8L333.3,1203.8L333.3,1200.8L333.3,1197.8L333.3,1194.8L333.3,1191.8L333.3,1188.8L333.3,1185.8L333.3,1182.8L333.4,1179.8L333.4,1176.8L333.4,1173.8L333.4,1170.8L333.4,1167.8L333.4,1164.8L333.4,1161.8L333.4,1158.8L333.4,1155.8L333.4,1152.8L333.4,1149.8L333.4,1146.8L333.4,1143.8L333.4,1140.8L333.4,1137.8L333.4,1134.8L333.4,1131.8L333.4,1128.8L333.4,1125.8L333.4,1122.8L333.4,1119.8L333.4,1116.8L333.4,1113.8L333.4,1110.8L333.4,1107.8L333.4,1104.8L333.4,1101.8L333.4,1098.8L333.4,1095.8L333.4,1092.8L333.4,1089.8L333.4,1086.8L333.4,1083.8L333.5,1080.8L333.5,1077.8L333.5,1074.8L333.5,1071.8L333.5,1068.8L333.5,1065.8L333.5,1062.8L333.5,1059.8L333.5,1056.8L333.5,1053.8L333.5,1050.8L333.5,1047.8L333.5,1044.8L333.5,1041.8L333.5,1038.8L333.5,1035.8L333.5,1032.8L333.5,1029.8L333.5,1026.8L333.5,1023.8L333.5,1020.8L333.5,1017.8L333.5,1014.8L333.5,1011.8L333.5,1008.8L333.5,1005.8L333.5,1002.8L333.5,999.8L333.5,996.8L333.5,993.8L333.5,990.8L333.5,987.8L333.4,984.8L333.4,981.8L333.4,978.8L333.4,975.8L333.4,972.8L333.4,969.8L333.4,966.8L333.4,963.8L333.3,960.8L333.3,957.8L333.3,954.8L333.3,951.8L333.3,948.8L333.3,945.8L333.3,942.8L333.2,939.8L333.2,936.8L333.2,933.8L333.2,930.8L333.2,927.8L333.1,924.8L333.1,921.8L333.1,918.8L333.1,915.8L333.1,912.8L333.1,909.8L333.2,906.8L333.3,903.8L333.4,900.8L333.5,897.8L333.7,894.8L333.8,891.8L334.0,888.8L334.2,885.8L334.3,882.8L334.5,879.8L334.7,876.8L335.0,873.8L335.2,870.8L335.5,867.8L335.8,864.8L336.0,861.8L336.3,858.8L336.6,855.8L337.0,852.8L337.3,849.8L337.7,846.8L338.1,843.8L338.5,840.8L338.9,837.8L339.3,834.8L339.7,831.8L340.2,828.8L340.6,825.8L341.0,822.8L341.5,819.8L341.9,816.8L342.4,813.8L342.8,810.8L343.2,807.8L343.7,804.8L344.1,801.8L344.6,798.8L345.0,795.8L345.5,792.8L345.9,789.8L346.4,786.8L346.9,783.8L347.3,780.8L347.8,777.8L348.2,774.8L348.7,771.8L349.2,768.8L349.6,765.8L350.0,762.8L350.5,759.8L350.9,756.8L351.3,753.8L351.8,750.8L352.2,747.8L352.7,744.8L353.1,741.8L353.5,738.8L354.0,735.8L354.4,732.8L354.8,729.8L355.2,726.8L355.6,723.8L356.0,720.8L356.4,717.8L356.7,714.8L357.1,711.8L357.4,708.8L357.7,705.8L358.0,702.8L358.3,699.8L358.5,696.8L358.8,693.8L359.1,690.8L359.3,687.8L359.6,684.8L359.8,681.8L360.1,678.8L360.3,675.8L360.5,672.8L360.8,669.8L361.0,666.8L361.3,663.8L361.5,660.8L361.8,657.8L362.0,654.8L362.3,651.8L362.5,648.8L362.8,645.8L363.1,642.8L363.3,639.8L363.6,636.8L363.9,633.8L364.1,630.8L364.4,627.8L364.6,624.8L364.9,621.8L365.2,618.8L365.4,615.8L365.7,612.8L366.0,609.8L366.2,606.8L366.5,603.8L366.8,600.8L367.1,597.8L367.4,594.8L367.7,591.8L367.9,588.8L368.2,585.8L368.5,582.8L368.8,579.8L369.1,576.8L369.4,573.8L369.7,570.8L369.9,567.8L370.2,564.8L370.5,561.8L370.7,558.8L371.0,555.8L371.2,552.8L371.4,549.8L371.7,546.8L371.9,543.8L372.1,540.8L372.3,537.8L372.5,534.8L372.7,531.8L372.9,528.8L373.1,525.8L373.3,522.8L373.5,519.8L373.7,516.8L373.9,513.8L374.1,510.8L374.3,507.8L374.5,504.8L374.8,501.8L375.0,498.8L375.2,495.8L375.5,492.8L375.7,489.8L376.0,486.8L376.2,483.8L376.5,480.8L376.7,477.8L377.0,474.8L377.2,471.8L377.5,468.8L377.7,465.8L378.0,462.8L378.2,459.8L378.5,456.8L378.7,453.8L379.0,450.8L379.2,447.8L379.4,444.8L379.6,441.8L379.9,438.8L380.1,435.8L380.3,432.8L380.5,429.8L380.8,426.8L381.0,423.8L381.2,420.8L381.4,417.8L381.6,414.8L381.9,411.8L382.1,408.8L382.3,405.8L382.5,402.8L382.7,399.8L383.0,396.8L383.2,393.8L383.4,390.8L383.7,387.8L383.9,384.8L384.1,381.8L384.3,378.8L384.6,375.8L384.8,372.8L385.0,369.8L385.3,366.8L385.5,363.8L385.7,360.8L385.9,357.8L386.2,354.8L386.4,351.8L386.6,348.8L386.8,345.8L387.1,342.8L387.3,339.8L387.5,336.8L387.7,333.8L388.0,330.8L388.2,327.8L388.4,324.8L388.6,321.8L388.8,318.8L389.1,315.8L389.3,312.8L389.5,309.8L389.7,306.8L389.9,303.8L390.2,300.8L390.4,297.8L390.6,294.8L390.8,291.8L391.0,288.8L391.2,285.8L391.5,282.8L391.7,279.8L391.9,276.8L392.1,273.8L392.3,270.8L392.5,267.8L392.7,264.8L393.0,261.8L393.2,258.8L393.4,255.8L393.6,252.8L393.8,249.8L394.0,246.8L394.2,243.8L394.4,240.8L394.6,237.8L394.8,234.8L395.0,231.8L395.3,228.8L395.5,225.8L395.7,222.8L395.9,219.8L396.1,216.8L396.3,213.8L396.5,210.8L396.7,207.8L396.9,204.8L397.1,201.8L397.3,198.8L397.5,195.8L397.7,192.8L397.9,189.8L398.1,186.8L398.3,183.8L398.5,180.8L398.7,177.8L399.0,174.8L399.2,171.8L399.4,168.8L399.6,165.8L399.8,162.8L400.1,159.8L400.4,156.8L400.6,153.8L400.9,150.8L401.2,147.8L401.6,144.8L402.0,141.8L402.4,138.8L402.8,135.8L403.3,132.8L403.7,129.8L404.2,126.8L404.7,123.8L405.2,121.0M406.0,116.0L406.0,119.0L406.0,122.0L406.0,125.0L406.0,128.0L406.0,131.0L406.0,134.0L406.0,137.0L406.0,140.0L406.0,143.0L406.0,146.0L406.0,149.0L406.0,152.0L406.0,155.0L406.0,158.0L406.0,161.0L406.0,164.0L406.0,167.0L406.0,170.0L406.0,173.0L406.0,176.0L406.0,179.0L406.0,182.0L406.0,185.0L406.0,188.0L406.0,191.0L406.0,194.0L406.0,197.0L406.0,200.0L406.0,203.0L406.0,206.0L406.0,209.0L406.0,212.0L406.0,215.0L406.0,218.0L406.0,221.0L406.0,224.0L406.0,227.0L406.0,230.0L406.0,233.0L406.0,236.0L406.0,239.0L406.0,242.0L406.0,245.0L406.0,248.0L406.0,251.0L406.0,254.0L406.0,257.0L406.0,260.0L406.0,263.0L406.0,266.0L406.1,269.0L406.2,272.0L406.3,275.0L406.5,278.0L406.7,281.0L406.8,284.0L407.0,287.0L407.2,290.0L407.4,293.0L407.6,296.0L407.8,299.0L407.9,302.0L408.1,305.0L408.2,308.0L408.4,311.0L408.5,314.0L408.6,317.0L408.8,320.0L408.9,323.0L409.0,326.0L409.2,329.0L409.3,332.0L409.5,335.0L409.6,338.0L409.7,341.0L409.9,344.0L410.0,347.0L410.2,350.0L410.3,353.0L410.5,356.0L410.6,359.0L410.8,362.0L411.0,365.0L411.1,368.0L411.3,371.0L411.5,374.0L411.6,377.0L411.8,380.0L412.0,383.0L412.1,386.0L412.3,389.0L412.5,392.0L412.7,395.0L412.8,398.0L413.0,401.0L413.1,404.0L413.3,407.0L413.4,410.0L413.6,413.0L413.8,416.0L413.9,419.0L414.1,422.0L414.2,425.0L414.3,428.0L414.5,431.0L414.6,434.0L414.8,437.0L414.9,440.0L415.1,443.0L415.2,446.0L415.4,449.0L415.6,452.0L415.7,455.0L415.9,458.0L416.0,461.0L416.2,464.0L416.3,467.0L416.5,470.0L416.7,473.0L416.8,476.0L417.0,479.0L417.1,482.0L417.3,485.0L417.5,488.0L417.6,491.0L417.8,494.0L418.0,497.0L418.1,500.0L418.3,503.0L418.5,506.0L418.7,509.0L418.8,512.0L419.0,515.0L419.2,518.0L419.4,521.0L419.5,524.0L419.7,527.0L419.9,530.0L420.1,533.0L420.2,536.0L420.4,539.0L420.6,542.0L420.8,545.0L421.0,548.0L421.2,551.0L421.4,554.0L421.6,557.0L421.8,560.0L422.0,563.0L422.3,566.0L422.5,569.0L422.8,572.0L423.0,575.0L423.3,578.0L423.5,581.0L423.8,584.0L424.1,587.0L424.3,590.0L424.6,593.0L424.8,596.0L425.0,599.0L425.3,602.0L425.5,605.0L425.7,608.0L425.9,611.0L426.1,614.0L426.3,617.0L426.5,620.0L426.7,623.0L426.9,626.0L427.1,629.0L427.3,632.0L427.5,635.0L427.7,638.0L427.9,641.0L428.1,644.0L428.3,647.0L428.4,650.0L428.6,653.0L428.8,656.0L429.0,659.0L429.1,662.0L429.3,665.0L429.4,668.0L429.6,671.0L429.7,674.0L429.9,677.0L430.0,680.0L430.2,683.0L430.3,686.0L430.5,689.0L430.6,692.0L430.8,695.0L430.9,698.0L431.1,701.0L431.2,704.0L431.4,707.0L431.6,710.0L431.8,713.0L432.0,716.0L432.1,719.0L432.3,722.0L432.5,725.0L432.8,728.0L433.0,731.0L433.2,734.0L433.4,737.0L433.6,740.0L433.8,743.0L434.0,746.0L434.3,749.0L434.5,752.0L434.7,755.0L434.9,758.0L435.1,761.0L435.4,764.0L435.6,767.0L435.8,770.0L436.0,773.0L436.2,776.0L436.5,779.0L436.7,782.0L436.9,785.0L437.1,788.0L437.4,791.0L437.6,794.0L437.8,797.0L438.1,800.0L438.3,803.0L438.6,806.0L438.8,809.0L439.0,812.0L439.3,815.0L439.5,818.0L439.8,821.0L440.0,824.0L440.3,827.0L440.5,830.0L440.8,833.0L441.0,836.0L441.3,839.0L441.6,842.0L441.8,845.0L442.1,848.0L442.4,851.0L442.6,854.0L442.9,857.0L443.2,860.0L443.5,863.0L443.8,866.0L444.1,869.0L444.4,872.0L444.7,875.0L445.0,878.0L445.3,881.0L445.6,884.0L445.9,887.0L446.2,890.0L446.6,893.0L446.9,896.0L447.2,899.0L447.5,902.0L447.8,905.0L448.2,908.0L448.5,911.0L448.8,914.0L449.1,917.0L449.4,920.0L449.8,923.0L450.1,926.0L450.4,929.0L450.7,932.0L451.0,935.0L451.4,938.0L451.7,941.0L452.0,944.0L452.3,947.0L452.7,950.0L453.0,953.0L453.3,956.0L453.7,959.0L454.0,962.0L454.4,965.0L454.7,968.0L455.1,971.0L455.5,974.0L455.9,977.0L456.3,980.0L456.6,983.0L457.0,986.0L457.4,989.0L457.8,992.0L458.2,995.0L458.6,998.0L459.0,1001.0L459.3,1004.0L459.7,1007.0L460.1,1010.0L460.4,1013.0L460.7,1016.0L461.1,1019.0L461.4,1022.0L461.8,1025.0L462.1,1028.0L462.4,1031.0L462.8,1034.0L463.1,1037.0L463.4,1040.0L463.7,1043.0L464.0,1046.0L464.4,1049.0L464.7,1052.0L464.9,1055.0L465.2,1058.0L465.5,1061.0L465.8,1064.0L466.0,1067.0L466.3,1070.0L466.6,1073.0L466.8,1076.0L467.1,1079.0L467.3,1082.0L467.6,1085.0L467.8,1088.0L468.0,1091.0L468.3,1094.0L468.5,1097.0L468.7,1100.0L468.9,1103.0L469.2,1106.0L469.4,1109.0L469.6,1112.0L469.8,1115.0L470.0,1118.0L470.1,1121.0L470.3,1124.0L470.5,1127.0L470.6,1130.0L470.8,1133.0L470.9,1136.0L471.1,1139.0L471.2,1142.0L471.4,1145.0L471.5,1148.0L471.7,1151.0L471.8,1154.0L471.9,1157.0L472.1,1160.0L472.2,1163.0L472.3,1166.0L472.4,1169.0L472.5,1172.0L472.6,1175.0L472.7,1178.0L472.8,1181.0L472.9,1184.0L473.0,1187.0L473.0,1190.0L473.1,1193.0L473.2,1196.0L473.2,1199.0L473.3,1202.0L473.4,1205.0L473.4,1208.0L473.5,1211.0L473.5,1214.0L473.6,1217.0L473.6,1220.0L473.7,1223.0L473.7,1226.0L473.8,1229.0L473.9,1232.0L473.9,1235.0L474.0,1238.0L474.0,1241.0L474.1,1244.0L474.1,1247.0L474.2,1250.0L474.2,1253.0L474.3,1256.0L474.3,1259.0L474.3,1262.0L474.4,1265.0L474.4,1268.0L474.5,1271.0L474.5,1274.0L474.6,1277.0L474.6,1280.0L474.6,1283.0L474.7,1286.0L474.7,1289.0L474.7,1292.0L474.8,1295.0L474.8,1298.0L474.8,1301.0L474.9,1304.0L474.9,1307.0L474.9,1310.0L475.0,1313.0L475.0,1316.0L475.0,1316.9" stroke="#00ff00"/>
<circle cx="475.0" cy="1313.5" r="3.40" fill="#00ff00" stroke="none"/>
<circle cx="333.2" cy="1320.4" r="3.40" fill="#00ff00" stroke="none"/>
</g>
<g stroke="#000" fill="none">
<rect x="275.00" y="10.40" width="1913.80" height="1425.60" stroke-width="11.40" stroke-linejoin="round"/>
<g stroke-width="11.00" stroke-linecap="round">
<line x1="332.20" y1="1436.00" x2="332.20" y2="1408.80"/>
<line x1="448.25" y1="1436.00" x2="448.25" y2="1422.80"/>
<line x1="564.30" y1="1436.00" x2="564.30" y2="1408.80"/>
<line x1="680.35" y1="1436.00" x2="680.35" y2="1422.80"/>
<line x1="796.40" y1="1436.00" x2="796.40" y2="1408.80"/>
<line x1="912.45" y1="1436.00" x2="912.45" y2="1422.80"/>
<line x1="1028.50" y1="1436.00" x2="1028.50" y2="1408.80"/>
<line x1="1144.55" y1="1436.00" x2="1144.55" y2="1422.80"/>
<line x1="1260.60" y1="1436.00" x2="1260.60" y2="1408.80"/>
<line x1="1376.65" y1="1436.00" x2="1376.65" y2="1422.80"/>
<line x1="1492.70" y1="1436.00" x2="1492.70" y2="1408.80"/>
<line x1="1608.75" y1="1436.00" x2="1608.75" y2="1422.80"/>
<line x1="1724.80" y1="1436.00" x2="1724.80" y2="1408.80"/>
<line x1="1840.85" y1="1436.00" x2="1840.85" y2="1422.80"/>
<line x1="1956.90" y1="1436.00" x2="1956.90" y2="1408.80"/>
<line x1="2072.95" y1="1436.00" x2="2072.95" y2="1422.80"/>
<line x1="275.00" y1="1317.60" x2="302.20" y2="1317.60"/>
<line x1="275.00" y1="1198.70" x2="288.20" y2="1198.70"/>
<line x1="275.00" y1="1079.80" x2="302.20" y2="1079.80"/>
<line x1="275.00" y1="960.90" x2="288.20" y2="960.90"/>
<line x1="275.00" y1="842.00" x2="302.20" y2="842.00"/>
<line x1="275.00" y1="723.10" x2="288.20" y2="723.10"/>
<line x1="275.00" y1="604.20" x2="302.20" y2="604.20"/>
<line x1="275.00" y1="485.30" x2="288.20" y2="485.30"/>
<line x1="275.00" y1="366.40" x2="302.20" y2="366.40"/>
<line x1="275.00" y1="247.50" x2="288.20" y2="247.50"/>
<line x1="275.00" y1="128.60" x2="302.20" y2="128.60"/>
</g>
</g>
<text transform="translate(332.20,1522.80)" x="-19.25" y="0" font-size="77.00" >0</text>
<text transform="translate(564.30,1522.80)" x="-56.17 -19.40 17.36" y="0" font-size="77.00" >200</text>
<text transform="translate(796.40,1522.80)" x="-55.09 -18.33 18.44" y="0" font-size="77.00" >400</text>
<text transform="translate(1028.50,1522.80)" x="-55.86 -19.10 17.67" y="0" font-size="77.00" >600</text>
<text transform="translate(1260.60,1522.80)" x="-55.83 -19.06 17.71" y="0" font-size="77.00" >800</text>
<text transform="translate(1492.70,1522.80)" x="-76.02 -39.25 -2.48 34.28" y="0" font-size="77.00" >1000</text>
<text transform="translate(1724.80,1522.80)" x="-76.02 -39.25 -2.48 34.28" y="0" font-size="77.00" >1200</text>
<text transform="translate(1956.90,1522.80)" x="-76.02 -39.25 -2.48 34.28" y="0" font-size="77.00" >1400</text>
<text transform="translate(2189.00,1522.80)" x="-76.02 -39.25 -2.48 34.28" y="0" font-size="77.00" >1600</text>
<text transform="translate(242.00,1337.00)" x="-114.83 -90.34 -53.57 -35.19" y="0" font-size="77.00" >-0.2</text>
<text transform="translate(242.00,1099.20)" x="-90.73 -53.96 -35.57" y="0" font-size="77.00" >0.0</text>
<text transform="translate(242.00,861.40)" x="-90.34 -53.57 -35.19" y="0" font-size="77.00" >0.2</text>
<text transform="translate(242.00,623.60)" x="-92.19 -55.42 -37.04" y="0" font-size="77.00" >0.4</text>
<text transform="translate(242.00,385.80)" x="-91.42 -54.65 -36.27" y="0" font-size="77.00" >0.6</text>
<text transform="translate(242.00,148.00)" x="-91.11 -54.34 -35.96" y="0" font-size="77.00" >0.8</text>
<text transform="translate(1294.60,1614.60)" x="-39.86 -13.43 8.62" y="0" font-size="82.00" >t/s</text>
<text transform="translate(59.60,1048.90) rotate(-90)" x="-1.39 47.09 86.78 113.21 148.44 192.59 219.02 241.08 280.76 302.82 324.87 382.19 408.63 448.31 479.20 499.05 543.19 600.52 653.46" y="0" font-size="82.00" >Potential/V(vs.SCE)</text>
<text transform="translate(479.00,1380.20)" x="-13.65" y="0" font-size="78.00" >f</text>
<text transform="translate(516.30,1375.00)" x="-17.63" y="0" font-size="78.00" >e</text>
<text transform="translate(598.50,1383.00)" x="-22.85" y="0" font-size="78.00" >d</text>
<text transform="translate(757.50,1372.00)" x="-17.67" y="0" font-size="78.00" >c</text>
<text transform="translate(1185.00,1380.70)" x="-20.63" y="0" font-size="78.00" >b</text>
<text transform="translate(1669.00,1380.30)" x="-20.16" y="0" font-size="78.00" >a</text>
<g stroke="#000" fill="none" stroke-width="8.00">
<path d="M1430.20,10.40 V639.00 H2188.80" stroke-linejoin="miter"/>
<g stroke-linecap="round">
<line x1="1462.40" y1="639.00" x2="1462.40" y2="628.00"/>
<line x1="1509.75" y1="639.00" x2="1509.75" y2="633.00"/>
<line x1="1557.10" y1="639.00" x2="1557.10" y2="628.00"/>
<line x1="1604.45" y1="639.00" x2="1604.45" y2="633.00"/>
<line x1="1651.80" y1="639.00" x2="1651.80" y2="628.00"/>
<line x1="1699.15" y1="639.00" x2="1699.15" y2="633.00"/>
<line x1="1746.50" y1="639.00" x2="1746.50" y2="628.00"/>
<line x1="1793.85" y1="639.00" x2="1793.85" y2="633.00"/>
<line x1="1841.20" y1="639.00" x2="1841.20" y2="628.00"/>
<line x1="1888.55" y1="639.00" x2="1888.55" y2="633.00"/>
<line x1="1935.90" y1="639.00" x2="1935.90" y2="628.00"/>
<line x1="1983.25" y1="639.00" x2="1983.25" y2="633.00"/>
<line x1="2030.60" y1="639.00" x2="2030.60" y2="628.00"/>
<line x1="2077.95" y1="639.00" x2="2077.95" y2="633.00"/>
<line x1="2125.30" y1="639.00" x2="2125.30" y2="628.00"/>
<line x1="2172.65" y1="639.00" x2="2172.65" y2="633.00"/>
<line x1="1430.20" y1="569.40" x2="1436.20" y2="569.40"/>
<line x1="1430.20" y1="499.80" x2="1441.20" y2="499.80"/>
<line x1="1430.20" y1="430.20" x2="1436.20" y2="430.20"/>
<line x1="1430.20" y1="360.60" x2="1441.20" y2="360.60"/>
<line x1="1430.20" y1="291.00" x2="1436.20" y2="291.00"/>
<line x1="1430.20" y1="221.40" x2="1441.20" y2="221.40"/>
<line x1="1430.20" y1="151.80" x2="1436.20" y2="151.80"/>
<line x1="1430.20" y1="82.20" x2="1441.20" y2="82.20"/>
</g>
<polyline points="1461.7,282.7 1524.7,158.0 1682.4,82.0 1840.3,127.7 1998.3,214.4 2156.5,246.9" stroke-width="9.00" stroke-linejoin="round"/>
</g>
<ellipse cx="1461.7" cy="282.7" rx="9.6" ry="11.3" fill="#000"/>
<ellipse cx="1524.7" cy="158.0" rx="9.6" ry="11.3" fill="#000"/>
<ellipse cx="1682.4" cy="82.0" rx="9.6" ry="11.3" fill="#000"/>
<ellipse cx="1840.3" cy="127.7" rx="9.6" ry="11.3" fill="#000"/>
<ellipse cx="1998.3" cy="214.4" rx="9.6" ry="11.3" fill="#000"/>
<ellipse cx="2156.5" cy="246.9" rx="9.6" ry="11.3" fill="#000"/>
<text transform="translate(1462.40,696.00)" x="-14.62" y="0" font-size="58.00" >3</text>
<text transform="translate(1557.10,696.00)" x="-14.64" y="0" font-size="58.00" >6</text>
<text transform="translate(1651.80,696.00)" x="-14.24" y="0" font-size="58.00" >9</text>
<text transform="translate(1746.50,696.00)" x="-28.62 -2.52" y="0" font-size="58.00" >12</text>
<text transform="translate(1841.20,696.00)" x="-28.80 -2.70" y="0" font-size="58.00" >15</text>
<text transform="translate(1935.90,696.00)" x="-28.91 -2.81" y="0" font-size="58.00" >18</text>
<text transform="translate(2030.60,696.00)" x="-27.26 -1.16" y="0" font-size="58.00" >21</text>
<text transform="translate(2125.30,696.00)" x="-28.22 -2.12" y="0" font-size="58.00" >24</text>
<text transform="translate(1419.80,655.20)" x="-52.90 -26.80" y="0" font-size="58.00" >60</text>
<text transform="translate(1419.80,516.00)" x="-52.90 -26.80" y="0" font-size="58.00" >70</text>
<text transform="translate(1419.80,376.80)" x="-52.90 -26.80" y="0" font-size="58.00" >80</text>
<text transform="translate(1419.80,237.60)" x="-52.90 -26.80" y="0" font-size="58.00" >90</text>
<text transform="translate(1419.80,98.40)" x="-79.00 -52.90 -26.80" y="0" font-size="58.00" >100</text>
<text transform="translate(1526.10,765.10)" x="-3.17 36.44 66.95 91.29 115.63 139.97 170.48 188.74 202.45 232.95 257.30 287.80 309.14 324.38 342.65 370.07 388.33 434.02 473.63 497.97" y="0" font-size="64.60" >Current density(mAcm</text>
<text transform="translate(2074.70,729.20)" x="-1.48 9.83" y="0" font-size="40.00" >-2</text>
<text transform="translate(2103.50,765.10)" x="-2.07" y="0" font-size="64.60" >)</text>
<text transform="translate(1323.80,620.50) rotate(-90)" x="-2.96 37.01 64.69 95.48 123.16 147.73 163.11 181.54 209.22 223.06 247.63 272.20 290.64 315.21 345.99 364.43 379.81 407.49 438.27 456.71 512.07" y="0" font-size="60.50" >Capacity retention(%)</text>
</svg></body></html>
